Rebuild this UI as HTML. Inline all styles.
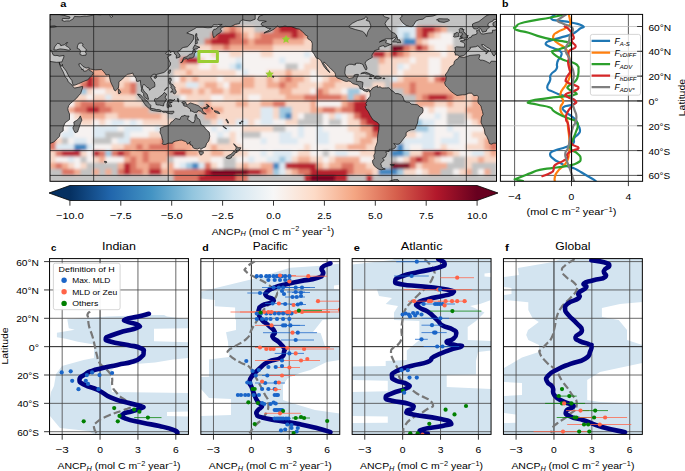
<!DOCTYPE html>
<html><head><meta charset="utf-8"><style>
html,body{margin:0;padding:0;background:#fff;overflow:hidden;}
svg{display:block;font-family:"Liberation Sans", sans-serif;}
</style></head><body>
<svg width="685" height="471" viewBox="0 0 685 471">
<defs><linearGradient id="cbg" gradientUnits="userSpaceOnUse" x1="69.9" x2="477.1" y1="0" y2="0"><stop offset="0.00" stop-color="#053061"/><stop offset="0.10" stop-color="#2166ac"/><stop offset="0.20" stop-color="#4393c3"/><stop offset="0.30" stop-color="#92c5de"/><stop offset="0.40" stop-color="#d1e5f0"/><stop offset="0.50" stop-color="#f7f7f7"/><stop offset="0.60" stop-color="#fddbc7"/><stop offset="0.70" stop-color="#f4a582"/><stop offset="0.80" stop-color="#d6604d"/><stop offset="0.90" stop-color="#b2182b"/><stop offset="1.00" stop-color="#67001f"/></linearGradient><clipPath id="mapclip"><rect x="50.0" y="14.6" width="446.5" height="166.70000000000002"/></clipPath><clipPath id="bclip"><rect x="500.4" y="14.4" width="142.20000000000005" height="166.9"/></clipPath><clipPath id="pclip0"><rect x="49.55" y="258.6" width="138.9" height="175.79999999999995"/></clipPath><clipPath id="pclip1"><rect x="200.85" y="258.6" width="138.9" height="175.79999999999995"/></clipPath><clipPath id="pclip2"><rect x="352.15" y="258.6" width="138.9" height="175.79999999999995"/></clipPath><clipPath id="pclip3"><rect x="503.45" y="258.6" width="138.9" height="175.79999999999995"/></clipPath></defs>
<g clip-path="url(#mapclip)">
<rect x="50.0" y="14.6" width="446.5" height="166.70000000000002" fill="#f6e3dc"/>
<filter id="oblur" x="-5%" y="-5%" width="110%" height="110%"><feGaussianBlur stdDeviation="1.6"/></filter>
<g filter="url(#oblur)">
<rect x="49.40" y="13.90" width="230.41" height="6.80" fill="#c2c2c2"/>
<rect x="279.21" y="13.90" width="31.66" height="6.80" fill="#b7202f"/>
<rect x="310.26" y="13.90" width="13.02" height="6.80" fill="#dc7563"/>
<rect x="322.68" y="13.90" width="6.81" height="6.80" fill="#f1ac92"/>
<rect x="328.89" y="13.90" width="19.23" height="6.80" fill="#f8d8c8"/>
<rect x="347.53" y="13.90" width="149.66" height="6.80" fill="#c2c2c2"/>
<rect x="49.40" y="20.10" width="174.51" height="6.80" fill="#c2c2c2"/>
<rect x="223.31" y="20.10" width="13.02" height="6.80" fill="#f1ac92"/>
<rect x="235.73" y="20.10" width="44.08" height="6.80" fill="#c2c2c2"/>
<rect x="279.21" y="20.10" width="25.44" height="6.80" fill="#b7202f"/>
<rect x="304.05" y="20.10" width="13.02" height="6.80" fill="#dc7563"/>
<rect x="316.47" y="20.10" width="6.81" height="6.80" fill="#f1ac92"/>
<rect x="322.68" y="20.10" width="25.44" height="6.80" fill="#f8d8c8"/>
<rect x="347.53" y="20.10" width="56.50" height="6.80" fill="#c2c2c2"/>
<rect x="403.43" y="20.10" width="13.02" height="6.80" fill="#dde9f2"/>
<rect x="415.85" y="20.10" width="81.34" height="6.80" fill="#c2c2c2"/>
<rect x="49.40" y="26.30" width="174.51" height="6.80" fill="#c2c2c2"/>
<rect x="223.31" y="26.30" width="6.81" height="6.80" fill="#f1ac92"/>
<rect x="229.52" y="26.30" width="6.81" height="6.80" fill="#dc7563"/>
<rect x="235.73" y="26.30" width="6.81" height="6.80" fill="#f1ac92"/>
<rect x="241.94" y="26.30" width="13.02" height="6.80" fill="#f8d8c8"/>
<rect x="254.36" y="26.30" width="19.23" height="6.80" fill="#c2c2c2"/>
<rect x="273.00" y="26.30" width="6.81" height="6.80" fill="#dc7563"/>
<rect x="279.21" y="26.30" width="19.23" height="6.80" fill="#b7202f"/>
<rect x="297.84" y="26.30" width="13.02" height="6.80" fill="#dc7563"/>
<rect x="310.26" y="26.30" width="6.81" height="6.80" fill="#f1ac92"/>
<rect x="316.47" y="26.30" width="31.66" height="6.80" fill="#f8d8c8"/>
<rect x="347.53" y="26.30" width="50.29" height="6.80" fill="#c2c2c2"/>
<rect x="397.22" y="26.30" width="19.23" height="6.80" fill="#dde9f2"/>
<rect x="415.85" y="26.30" width="6.81" height="6.80" fill="#dc7563"/>
<rect x="422.06" y="26.30" width="13.02" height="6.80" fill="#b7202f"/>
<rect x="434.48" y="26.30" width="6.81" height="6.80" fill="#dc7563"/>
<rect x="440.69" y="26.30" width="6.81" height="6.80" fill="#f1ac92"/>
<rect x="446.90" y="26.30" width="50.29" height="6.80" fill="#c2c2c2"/>
<rect x="49.40" y="32.50" width="162.09" height="6.80" fill="#c2c2c2"/>
<rect x="210.89" y="32.50" width="6.81" height="6.80" fill="#dc7563"/>
<rect x="217.10" y="32.50" width="19.23" height="6.80" fill="#b7202f"/>
<rect x="235.73" y="32.50" width="6.81" height="6.80" fill="#dc7563"/>
<rect x="241.94" y="32.50" width="6.81" height="6.80" fill="#f1ac92"/>
<rect x="248.15" y="32.50" width="6.81" height="6.80" fill="#f8d8c8"/>
<rect x="254.36" y="32.50" width="6.81" height="6.80" fill="#f1ac92"/>
<rect x="260.57" y="32.50" width="31.66" height="6.80" fill="#dc7563"/>
<rect x="291.63" y="32.50" width="6.81" height="6.80" fill="#b7202f"/>
<rect x="297.84" y="32.50" width="6.81" height="6.80" fill="#dc7563"/>
<rect x="304.05" y="32.50" width="6.81" height="6.80" fill="#f1ac92"/>
<rect x="310.26" y="32.50" width="31.66" height="6.80" fill="#f8d8c8"/>
<rect x="341.32" y="32.50" width="56.50" height="6.80" fill="#c2c2c2"/>
<rect x="397.22" y="32.50" width="6.81" height="6.80" fill="#dde9f2"/>
<rect x="403.43" y="32.50" width="6.81" height="6.80" fill="#9fc8e0"/>
<rect x="409.64" y="32.50" width="6.81" height="6.80" fill="#dde9f2"/>
<rect x="415.85" y="32.50" width="6.81" height="6.80" fill="#dc7563"/>
<rect x="422.06" y="32.50" width="6.81" height="6.80" fill="#b7202f"/>
<rect x="428.27" y="32.50" width="6.81" height="6.80" fill="#f1ac92"/>
<rect x="434.48" y="32.50" width="6.81" height="6.80" fill="#f8d8c8"/>
<rect x="440.69" y="32.50" width="13.02" height="6.80" fill="#f6f2f1"/>
<rect x="453.12" y="32.50" width="44.08" height="6.80" fill="#c2c2c2"/>
<rect x="49.40" y="38.70" width="155.88" height="6.80" fill="#c2c2c2"/>
<rect x="204.68" y="38.70" width="6.81" height="6.80" fill="#dc7563"/>
<rect x="210.89" y="38.70" width="19.23" height="6.80" fill="#b7202f"/>
<rect x="229.52" y="38.70" width="19.23" height="6.80" fill="#dc7563"/>
<rect x="248.15" y="38.70" width="6.81" height="6.80" fill="#f1ac92"/>
<rect x="254.36" y="38.70" width="19.23" height="6.80" fill="#dc7563"/>
<rect x="273.00" y="38.70" width="31.66" height="6.80" fill="#f1ac92"/>
<rect x="304.05" y="38.70" width="37.87" height="6.80" fill="#f8d8c8"/>
<rect x="341.32" y="38.70" width="62.71" height="6.80" fill="#c2c2c2"/>
<rect x="403.43" y="38.70" width="13.02" height="6.80" fill="#3d85bf"/>
<rect x="415.85" y="38.70" width="6.81" height="6.80" fill="#f1ac92"/>
<rect x="422.06" y="38.70" width="6.81" height="6.80" fill="#f8d8c8"/>
<rect x="428.27" y="38.70" width="25.44" height="6.80" fill="#f6f2f1"/>
<rect x="453.12" y="38.70" width="44.08" height="6.80" fill="#c2c2c2"/>
<rect x="49.40" y="44.90" width="62.71" height="6.80" fill="#c2c2c2"/>
<rect x="111.51" y="44.90" width="6.81" height="6.80" fill="#f1ac92"/>
<rect x="117.72" y="44.90" width="19.23" height="6.80" fill="#f8d8c8"/>
<rect x="136.35" y="44.90" width="62.71" height="6.80" fill="#c2c2c2"/>
<rect x="198.46" y="44.90" width="13.02" height="6.80" fill="#f8d8c8"/>
<rect x="210.89" y="44.90" width="13.02" height="6.80" fill="#f1ac92"/>
<rect x="223.31" y="44.90" width="6.81" height="6.80" fill="#dc7563"/>
<rect x="229.52" y="44.90" width="44.08" height="6.80" fill="#f1ac92"/>
<rect x="273.00" y="44.90" width="62.71" height="6.80" fill="#f8d8c8"/>
<rect x="335.11" y="44.90" width="56.50" height="6.80" fill="#c2c2c2"/>
<rect x="391.00" y="44.90" width="13.02" height="6.80" fill="#7a0622"/>
<rect x="403.43" y="44.90" width="6.81" height="6.80" fill="#dc7563"/>
<rect x="409.64" y="44.90" width="6.81" height="6.80" fill="#f1ac92"/>
<rect x="415.85" y="44.90" width="6.81" height="6.80" fill="#b7202f"/>
<rect x="422.06" y="44.90" width="6.81" height="6.80" fill="#dc7563"/>
<rect x="428.27" y="44.90" width="6.81" height="6.80" fill="#f8d8c8"/>
<rect x="434.48" y="44.90" width="13.02" height="6.80" fill="#f6f2f1"/>
<rect x="446.90" y="44.90" width="6.81" height="6.80" fill="#f8d8c8"/>
<rect x="453.12" y="44.90" width="44.08" height="6.80" fill="#c2c2c2"/>
<rect x="49.40" y="51.10" width="56.50" height="6.80" fill="#c2c2c2"/>
<rect x="105.30" y="51.10" width="13.02" height="6.80" fill="#f1ac92"/>
<rect x="117.72" y="51.10" width="25.44" height="6.80" fill="#f8d8c8"/>
<rect x="142.56" y="51.10" width="50.29" height="6.80" fill="#c2c2c2"/>
<rect x="192.25" y="51.10" width="6.81" height="6.80" fill="#9fc8e0"/>
<rect x="198.46" y="51.10" width="13.02" height="6.80" fill="#f6f2f1"/>
<rect x="210.89" y="51.10" width="6.81" height="6.80" fill="#f8d8c8"/>
<rect x="217.10" y="51.10" width="13.02" height="6.80" fill="#f6f2f1"/>
<rect x="229.52" y="51.10" width="13.02" height="6.80" fill="#f8d8c8"/>
<rect x="241.94" y="51.10" width="19.23" height="6.80" fill="#f6f2f1"/>
<rect x="260.57" y="51.10" width="13.02" height="6.80" fill="#f8d8c8"/>
<rect x="273.00" y="51.10" width="31.66" height="6.80" fill="#f6f2f1"/>
<rect x="304.05" y="51.10" width="6.81" height="6.80" fill="#dde9f2"/>
<rect x="310.26" y="51.10" width="6.81" height="6.80" fill="#f6f2f1"/>
<rect x="316.47" y="51.10" width="13.02" height="6.80" fill="#f8d8c8"/>
<rect x="328.89" y="51.10" width="44.08" height="6.80" fill="#c2c2c2"/>
<rect x="372.37" y="51.10" width="13.02" height="6.80" fill="#b7202f"/>
<rect x="384.79" y="51.10" width="6.81" height="6.80" fill="#f1ac92"/>
<rect x="391.00" y="51.10" width="6.81" height="6.80" fill="#b7202f"/>
<rect x="397.22" y="51.10" width="6.81" height="6.80" fill="#dc7563"/>
<rect x="403.43" y="51.10" width="6.81" height="6.80" fill="#f1ac92"/>
<rect x="409.64" y="51.10" width="31.66" height="6.80" fill="#f8d8c8"/>
<rect x="440.69" y="51.10" width="6.81" height="6.80" fill="#f6f2f1"/>
<rect x="446.90" y="51.10" width="13.02" height="6.80" fill="#f8d8c8"/>
<rect x="459.33" y="51.10" width="37.87" height="6.80" fill="#c2c2c2"/>
<rect x="49.40" y="57.30" width="50.29" height="6.80" fill="#c2c2c2"/>
<rect x="99.09" y="57.30" width="19.23" height="6.80" fill="#f1ac92"/>
<rect x="117.72" y="57.30" width="25.44" height="6.80" fill="#f8d8c8"/>
<rect x="142.56" y="57.30" width="37.87" height="6.80" fill="#c2c2c2"/>
<rect x="179.83" y="57.30" width="6.81" height="6.80" fill="#dc7563"/>
<rect x="186.04" y="57.30" width="13.02" height="6.80" fill="#b7202f"/>
<rect x="198.46" y="57.30" width="6.81" height="6.80" fill="#f8d8c8"/>
<rect x="204.68" y="57.30" width="31.66" height="6.80" fill="#f6f2f1"/>
<rect x="235.73" y="57.30" width="6.81" height="6.80" fill="#dde9f2"/>
<rect x="241.94" y="57.30" width="37.87" height="6.80" fill="#f6f2f1"/>
<rect x="279.21" y="57.30" width="6.81" height="6.80" fill="#dde9f2"/>
<rect x="285.42" y="57.30" width="25.44" height="6.80" fill="#f6f2f1"/>
<rect x="310.26" y="57.30" width="13.02" height="6.80" fill="#f8d8c8"/>
<rect x="322.68" y="57.30" width="56.50" height="6.80" fill="#c2c2c2"/>
<rect x="378.58" y="57.30" width="6.81" height="6.80" fill="#f1ac92"/>
<rect x="384.79" y="57.30" width="25.44" height="6.80" fill="#f8d8c8"/>
<rect x="409.64" y="57.30" width="6.81" height="6.80" fill="#f6f2f1"/>
<rect x="415.85" y="57.30" width="13.02" height="6.80" fill="#f8d8c8"/>
<rect x="428.27" y="57.30" width="13.02" height="6.80" fill="#f6f2f1"/>
<rect x="440.69" y="57.30" width="25.44" height="6.80" fill="#f8d8c8"/>
<rect x="465.54" y="57.30" width="31.66" height="6.80" fill="#c2c2c2"/>
<rect x="49.40" y="63.50" width="44.08" height="6.80" fill="#c2c2c2"/>
<rect x="92.88" y="63.50" width="25.44" height="6.80" fill="#f1ac92"/>
<rect x="117.72" y="63.50" width="25.44" height="6.80" fill="#f8d8c8"/>
<rect x="142.56" y="63.50" width="37.87" height="6.80" fill="#c2c2c2"/>
<rect x="179.83" y="63.50" width="6.81" height="6.80" fill="#f1ac92"/>
<rect x="186.04" y="63.50" width="13.02" height="6.80" fill="#f8d8c8"/>
<rect x="198.46" y="63.50" width="13.02" height="6.80" fill="#f6f2f1"/>
<rect x="210.89" y="63.50" width="6.81" height="6.80" fill="#f8d8c8"/>
<rect x="217.10" y="63.50" width="13.02" height="6.80" fill="#f6f2f1"/>
<rect x="229.52" y="63.50" width="6.81" height="6.80" fill="#dde9f2"/>
<rect x="235.73" y="63.50" width="6.81" height="6.80" fill="#9fc8e0"/>
<rect x="241.94" y="63.50" width="44.08" height="6.80" fill="#f6f2f1"/>
<rect x="285.42" y="63.50" width="13.02" height="6.80" fill="#c2c2c2"/>
<rect x="297.84" y="63.50" width="6.81" height="6.80" fill="#f6f2f1"/>
<rect x="304.05" y="63.50" width="25.44" height="6.80" fill="#f8d8c8"/>
<rect x="328.89" y="63.50" width="50.29" height="6.80" fill="#c2c2c2"/>
<rect x="378.58" y="63.50" width="19.23" height="6.80" fill="#f8d8c8"/>
<rect x="397.22" y="63.50" width="6.81" height="6.80" fill="#dde9f2"/>
<rect x="403.43" y="63.50" width="6.81" height="6.80" fill="#f6f2f1"/>
<rect x="409.64" y="63.50" width="19.23" height="6.80" fill="#f8d8c8"/>
<rect x="428.27" y="63.50" width="13.02" height="6.80" fill="#f6f2f1"/>
<rect x="440.69" y="63.50" width="25.44" height="6.80" fill="#f8d8c8"/>
<rect x="465.54" y="63.50" width="31.66" height="6.80" fill="#c2c2c2"/>
<rect x="49.40" y="69.70" width="37.87" height="6.80" fill="#c2c2c2"/>
<rect x="86.67" y="69.70" width="25.44" height="6.80" fill="#f1ac92"/>
<rect x="111.51" y="69.70" width="31.66" height="6.80" fill="#f8d8c8"/>
<rect x="142.56" y="69.70" width="31.66" height="6.80" fill="#c2c2c2"/>
<rect x="173.62" y="69.70" width="13.02" height="6.80" fill="#f8d8c8"/>
<rect x="186.04" y="69.70" width="6.81" height="6.80" fill="#f1ac92"/>
<rect x="192.25" y="69.70" width="44.08" height="6.80" fill="#f8d8c8"/>
<rect x="235.73" y="69.70" width="6.81" height="6.80" fill="#f6f2f1"/>
<rect x="241.94" y="69.70" width="6.81" height="6.80" fill="#dde9f2"/>
<rect x="248.15" y="69.70" width="19.23" height="6.80" fill="#f6f2f1"/>
<rect x="266.79" y="69.70" width="19.23" height="6.80" fill="#f8d8c8"/>
<rect x="285.42" y="69.70" width="6.81" height="6.80" fill="#f1ac92"/>
<rect x="291.63" y="69.70" width="19.23" height="6.80" fill="#f8d8c8"/>
<rect x="310.26" y="69.70" width="6.81" height="6.80" fill="#f6f2f1"/>
<rect x="316.47" y="69.70" width="25.44" height="6.80" fill="#f8d8c8"/>
<rect x="341.32" y="69.70" width="37.87" height="6.80" fill="#c2c2c2"/>
<rect x="378.58" y="69.70" width="19.23" height="6.80" fill="#f8d8c8"/>
<rect x="397.22" y="69.70" width="6.81" height="6.80" fill="#f6f2f1"/>
<rect x="403.43" y="69.70" width="25.44" height="6.80" fill="#f8d8c8"/>
<rect x="428.27" y="69.70" width="13.02" height="6.80" fill="#f6f2f1"/>
<rect x="440.69" y="69.70" width="25.44" height="6.80" fill="#f8d8c8"/>
<rect x="465.54" y="69.70" width="31.66" height="6.80" fill="#c2c2c2"/>
<rect x="49.40" y="75.90" width="31.66" height="6.80" fill="#c2c2c2"/>
<rect x="80.45" y="75.90" width="6.81" height="6.80" fill="#f1ac92"/>
<rect x="86.67" y="75.90" width="6.81" height="6.80" fill="#b7202f"/>
<rect x="92.88" y="75.90" width="6.81" height="6.80" fill="#dc7563"/>
<rect x="99.09" y="75.90" width="6.81" height="6.80" fill="#f1ac92"/>
<rect x="105.30" y="75.90" width="6.81" height="6.80" fill="#f8d8c8"/>
<rect x="111.51" y="75.90" width="6.81" height="6.80" fill="#f1ac92"/>
<rect x="117.72" y="75.90" width="13.02" height="6.80" fill="#f8d8c8"/>
<rect x="130.14" y="75.90" width="6.81" height="6.80" fill="#f6f2f1"/>
<rect x="136.35" y="75.90" width="37.87" height="6.80" fill="#c2c2c2"/>
<rect x="173.62" y="75.90" width="6.81" height="6.80" fill="#f6f2f1"/>
<rect x="179.83" y="75.90" width="6.81" height="6.80" fill="#f1ac92"/>
<rect x="186.04" y="75.90" width="6.81" height="6.80" fill="#f8d8c8"/>
<rect x="192.25" y="75.90" width="6.81" height="6.80" fill="#f1ac92"/>
<rect x="198.46" y="75.90" width="19.23" height="6.80" fill="#f8d8c8"/>
<rect x="217.10" y="75.90" width="6.81" height="6.80" fill="#f6f2f1"/>
<rect x="223.31" y="75.90" width="19.23" height="6.80" fill="#f8d8c8"/>
<rect x="241.94" y="75.90" width="13.02" height="6.80" fill="#f1ac92"/>
<rect x="254.36" y="75.90" width="13.02" height="6.80" fill="#f8d8c8"/>
<rect x="266.79" y="75.90" width="6.81" height="6.80" fill="#f1ac92"/>
<rect x="273.00" y="75.90" width="6.81" height="6.80" fill="#f8d8c8"/>
<rect x="279.21" y="75.90" width="6.81" height="6.80" fill="#f1ac92"/>
<rect x="285.42" y="75.90" width="6.81" height="6.80" fill="#dc7563"/>
<rect x="291.63" y="75.90" width="13.02" height="6.80" fill="#f1ac92"/>
<rect x="304.05" y="75.90" width="6.81" height="6.80" fill="#f8d8c8"/>
<rect x="310.26" y="75.90" width="13.02" height="6.80" fill="#f6f2f1"/>
<rect x="322.68" y="75.90" width="6.81" height="6.80" fill="#f8d8c8"/>
<rect x="328.89" y="75.90" width="13.02" height="6.80" fill="#f1ac92"/>
<rect x="341.32" y="75.90" width="13.02" height="6.80" fill="#f8d8c8"/>
<rect x="353.74" y="75.90" width="37.87" height="6.80" fill="#c2c2c2"/>
<rect x="391.00" y="75.90" width="6.81" height="6.80" fill="#dde9f2"/>
<rect x="397.22" y="75.90" width="6.81" height="6.80" fill="#f8d8c8"/>
<rect x="403.43" y="75.90" width="25.44" height="6.80" fill="#f1ac92"/>
<rect x="428.27" y="75.90" width="6.81" height="6.80" fill="#f8d8c8"/>
<rect x="434.48" y="75.90" width="6.81" height="6.80" fill="#dc7563"/>
<rect x="440.69" y="75.90" width="6.81" height="6.80" fill="#b7202f"/>
<rect x="446.90" y="75.90" width="19.23" height="6.80" fill="#f8d8c8"/>
<rect x="465.54" y="75.90" width="6.81" height="6.80" fill="#f1ac92"/>
<rect x="471.75" y="75.90" width="6.81" height="6.80" fill="#f8d8c8"/>
<rect x="477.96" y="75.90" width="19.23" height="6.80" fill="#c2c2c2"/>
<rect x="49.40" y="82.10" width="25.44" height="6.80" fill="#c2c2c2"/>
<rect x="74.24" y="82.10" width="6.81" height="6.80" fill="#f8d8c8"/>
<rect x="80.45" y="82.10" width="6.81" height="6.80" fill="#dc7563"/>
<rect x="86.67" y="82.10" width="6.81" height="6.80" fill="#b7202f"/>
<rect x="92.88" y="82.10" width="6.81" height="6.80" fill="#dc7563"/>
<rect x="99.09" y="82.10" width="19.23" height="6.80" fill="#f1ac92"/>
<rect x="117.72" y="82.10" width="6.81" height="6.80" fill="#f8d8c8"/>
<rect x="123.93" y="82.10" width="6.81" height="6.80" fill="#f1ac92"/>
<rect x="130.14" y="82.10" width="6.81" height="6.80" fill="#dc7563"/>
<rect x="136.35" y="82.10" width="37.87" height="6.80" fill="#c2c2c2"/>
<rect x="173.62" y="82.10" width="13.02" height="6.80" fill="#f8d8c8"/>
<rect x="186.04" y="82.10" width="13.02" height="6.80" fill="#dde9f2"/>
<rect x="198.46" y="82.10" width="6.81" height="6.80" fill="#f8d8c8"/>
<rect x="204.68" y="82.10" width="13.02" height="6.80" fill="#f1ac92"/>
<rect x="217.10" y="82.10" width="6.81" height="6.80" fill="#f8d8c8"/>
<rect x="223.31" y="82.10" width="6.81" height="6.80" fill="#f6f2f1"/>
<rect x="229.52" y="82.10" width="25.44" height="6.80" fill="#f1ac92"/>
<rect x="254.36" y="82.10" width="13.02" height="6.80" fill="#f8d8c8"/>
<rect x="266.79" y="82.10" width="13.02" height="6.80" fill="#f1ac92"/>
<rect x="279.21" y="82.10" width="6.81" height="6.80" fill="#dc7563"/>
<rect x="285.42" y="82.10" width="13.02" height="6.80" fill="#f1ac92"/>
<rect x="297.84" y="82.10" width="25.44" height="6.80" fill="#f8d8c8"/>
<rect x="322.68" y="82.10" width="13.02" height="6.80" fill="#f1ac92"/>
<rect x="335.11" y="82.10" width="25.44" height="6.80" fill="#f8d8c8"/>
<rect x="359.95" y="82.10" width="13.02" height="6.80" fill="#c2c2c2"/>
<rect x="372.37" y="82.10" width="13.02" height="6.80" fill="#f8d8c8"/>
<rect x="384.79" y="82.10" width="6.81" height="6.80" fill="#c2c2c2"/>
<rect x="391.00" y="82.10" width="19.23" height="6.80" fill="#f1ac92"/>
<rect x="409.64" y="82.10" width="6.81" height="6.80" fill="#dc7563"/>
<rect x="415.85" y="82.10" width="31.66" height="6.80" fill="#f1ac92"/>
<rect x="446.90" y="82.10" width="13.02" height="6.80" fill="#f8d8c8"/>
<rect x="459.33" y="82.10" width="6.81" height="6.80" fill="#f1ac92"/>
<rect x="465.54" y="82.10" width="19.23" height="6.80" fill="#f8d8c8"/>
<rect x="484.17" y="82.10" width="6.81" height="6.80" fill="#f1ac92"/>
<rect x="490.38" y="82.10" width="6.81" height="6.80" fill="#f8d8c8"/>
<rect x="49.40" y="88.30" width="19.23" height="6.80" fill="#c2c2c2"/>
<rect x="68.03" y="88.30" width="13.02" height="6.80" fill="#f8d8c8"/>
<rect x="80.45" y="88.30" width="6.81" height="6.80" fill="#9fc8e0"/>
<rect x="86.67" y="88.30" width="6.81" height="6.80" fill="#f8d8c8"/>
<rect x="92.88" y="88.30" width="13.02" height="6.80" fill="#f6f2f1"/>
<rect x="105.30" y="88.30" width="13.02" height="6.80" fill="#f8d8c8"/>
<rect x="117.72" y="88.30" width="13.02" height="6.80" fill="#f1ac92"/>
<rect x="130.14" y="88.30" width="6.81" height="6.80" fill="#dc7563"/>
<rect x="136.35" y="88.30" width="37.87" height="6.80" fill="#c2c2c2"/>
<rect x="173.62" y="88.30" width="6.81" height="6.80" fill="#f8d8c8"/>
<rect x="179.83" y="88.30" width="13.02" height="6.80" fill="#f1ac92"/>
<rect x="192.25" y="88.30" width="6.81" height="6.80" fill="#f8d8c8"/>
<rect x="198.46" y="88.30" width="6.81" height="6.80" fill="#f1ac92"/>
<rect x="204.68" y="88.30" width="6.81" height="6.80" fill="#f8d8c8"/>
<rect x="210.89" y="88.30" width="13.02" height="6.80" fill="#f1ac92"/>
<rect x="223.31" y="88.30" width="6.81" height="6.80" fill="#f8d8c8"/>
<rect x="229.52" y="88.30" width="13.02" height="6.80" fill="#f1ac92"/>
<rect x="241.94" y="88.30" width="37.87" height="6.80" fill="#f8d8c8"/>
<rect x="279.21" y="88.30" width="13.02" height="6.80" fill="#f1ac92"/>
<rect x="291.63" y="88.30" width="19.23" height="6.80" fill="#f8d8c8"/>
<rect x="310.26" y="88.30" width="6.81" height="6.80" fill="#f6f2f1"/>
<rect x="316.47" y="88.30" width="6.81" height="6.80" fill="#dc7563"/>
<rect x="322.68" y="88.30" width="6.81" height="6.80" fill="#f1ac92"/>
<rect x="328.89" y="88.30" width="13.02" height="6.80" fill="#f8d8c8"/>
<rect x="341.32" y="88.30" width="6.81" height="6.80" fill="#f6f2f1"/>
<rect x="347.53" y="88.30" width="13.02" height="6.80" fill="#9fc8e0"/>
<rect x="359.95" y="88.30" width="6.81" height="6.80" fill="#f6f2f1"/>
<rect x="366.16" y="88.30" width="19.23" height="6.80" fill="#f8d8c8"/>
<rect x="384.79" y="88.30" width="19.23" height="6.80" fill="#c2c2c2"/>
<rect x="403.43" y="88.30" width="6.81" height="6.80" fill="#f1ac92"/>
<rect x="409.64" y="88.30" width="6.81" height="6.80" fill="#dc7563"/>
<rect x="415.85" y="88.30" width="44.08" height="6.80" fill="#f1ac92"/>
<rect x="459.33" y="88.30" width="19.23" height="6.80" fill="#f8d8c8"/>
<rect x="477.96" y="88.30" width="6.81" height="6.80" fill="#f1ac92"/>
<rect x="484.17" y="88.30" width="13.02" height="6.80" fill="#f8d8c8"/>
<rect x="49.40" y="94.50" width="19.23" height="6.80" fill="#f6f2f1"/>
<rect x="68.03" y="94.50" width="19.23" height="6.80" fill="#f8d8c8"/>
<rect x="86.67" y="94.50" width="6.81" height="6.80" fill="#f6f2f1"/>
<rect x="92.88" y="94.50" width="13.02" height="6.80" fill="#f8d8c8"/>
<rect x="105.30" y="94.50" width="6.81" height="6.80" fill="#dde9f2"/>
<rect x="111.51" y="94.50" width="25.44" height="6.80" fill="#f8d8c8"/>
<rect x="136.35" y="94.50" width="44.08" height="6.80" fill="#c2c2c2"/>
<rect x="179.83" y="94.50" width="6.81" height="6.80" fill="#f6f2f1"/>
<rect x="186.04" y="94.50" width="25.44" height="6.80" fill="#f8d8c8"/>
<rect x="210.89" y="94.50" width="13.02" height="6.80" fill="#f6f2f1"/>
<rect x="223.31" y="94.50" width="25.44" height="6.80" fill="#f8d8c8"/>
<rect x="248.15" y="94.50" width="13.02" height="6.80" fill="#f6f2f1"/>
<rect x="260.57" y="94.50" width="25.44" height="6.80" fill="#f8d8c8"/>
<rect x="285.42" y="94.50" width="19.23" height="6.80" fill="#f1ac92"/>
<rect x="304.05" y="94.50" width="37.87" height="6.80" fill="#dc7563"/>
<rect x="341.32" y="94.50" width="6.81" height="6.80" fill="#f1ac92"/>
<rect x="347.53" y="94.50" width="6.81" height="6.80" fill="#9fc8e0"/>
<rect x="353.74" y="94.50" width="6.81" height="6.80" fill="#f1ac92"/>
<rect x="359.95" y="94.50" width="6.81" height="6.80" fill="#dc7563"/>
<rect x="366.16" y="94.50" width="6.81" height="6.80" fill="#f6f2f1"/>
<rect x="372.37" y="94.50" width="13.02" height="6.80" fill="#f8d8c8"/>
<rect x="384.79" y="94.50" width="31.66" height="6.80" fill="#c2c2c2"/>
<rect x="415.85" y="94.50" width="6.81" height="6.80" fill="#f1ac92"/>
<rect x="422.06" y="94.50" width="6.81" height="6.80" fill="#dc7563"/>
<rect x="428.27" y="94.50" width="19.23" height="6.80" fill="#b7202f"/>
<rect x="446.90" y="94.50" width="6.81" height="6.80" fill="#dc7563"/>
<rect x="453.12" y="94.50" width="13.02" height="6.80" fill="#f1ac92"/>
<rect x="465.54" y="94.50" width="6.81" height="6.80" fill="#f8d8c8"/>
<rect x="471.75" y="94.50" width="6.81" height="6.80" fill="#f1ac92"/>
<rect x="477.96" y="94.50" width="19.23" height="6.80" fill="#f8d8c8"/>
<rect x="49.40" y="100.70" width="25.44" height="6.80" fill="#f6f2f1"/>
<rect x="74.24" y="100.70" width="6.81" height="6.80" fill="#f1ac92"/>
<rect x="80.45" y="100.70" width="25.44" height="6.80" fill="#dc7563"/>
<rect x="105.30" y="100.70" width="19.23" height="6.80" fill="#f1ac92"/>
<rect x="123.93" y="100.70" width="19.23" height="6.80" fill="#f8d8c8"/>
<rect x="142.56" y="100.70" width="44.08" height="6.80" fill="#c2c2c2"/>
<rect x="186.04" y="100.70" width="13.02" height="6.80" fill="#f8d8c8"/>
<rect x="198.46" y="100.70" width="6.81" height="6.80" fill="#c2c2c2"/>
<rect x="204.68" y="100.70" width="6.81" height="6.80" fill="#f1ac92"/>
<rect x="210.89" y="100.70" width="25.44" height="6.80" fill="#f8d8c8"/>
<rect x="235.73" y="100.70" width="13.02" height="6.80" fill="#f1ac92"/>
<rect x="248.15" y="100.70" width="13.02" height="6.80" fill="#f8d8c8"/>
<rect x="260.57" y="100.70" width="13.02" height="6.80" fill="#f1ac92"/>
<rect x="273.00" y="100.70" width="13.02" height="6.80" fill="#dc7563"/>
<rect x="285.42" y="100.70" width="25.44" height="6.80" fill="#f8d8c8"/>
<rect x="310.26" y="100.70" width="6.81" height="6.80" fill="#f1ac92"/>
<rect x="316.47" y="100.70" width="25.44" height="6.80" fill="#f6f2f1"/>
<rect x="341.32" y="100.70" width="6.81" height="6.80" fill="#f1ac92"/>
<rect x="347.53" y="100.70" width="6.81" height="6.80" fill="#dc7563"/>
<rect x="353.74" y="100.70" width="25.44" height="6.80" fill="#b7202f"/>
<rect x="378.58" y="100.70" width="6.81" height="6.80" fill="#f8d8c8"/>
<rect x="384.79" y="100.70" width="31.66" height="6.80" fill="#c2c2c2"/>
<rect x="415.85" y="100.70" width="19.23" height="6.80" fill="#f1ac92"/>
<rect x="434.48" y="100.70" width="13.02" height="6.80" fill="#f8d8c8"/>
<rect x="446.90" y="100.70" width="6.81" height="6.80" fill="#f1ac92"/>
<rect x="453.12" y="100.70" width="19.23" height="6.80" fill="#f8d8c8"/>
<rect x="471.75" y="100.70" width="25.44" height="6.80" fill="#f1ac92"/>
<rect x="49.40" y="106.90" width="19.23" height="6.80" fill="#f6f2f1"/>
<rect x="68.03" y="106.90" width="6.81" height="6.80" fill="#f1ac92"/>
<rect x="74.24" y="106.90" width="13.02" height="6.80" fill="#dc7563"/>
<rect x="86.67" y="106.90" width="13.02" height="6.80" fill="#b7202f"/>
<rect x="99.09" y="106.90" width="13.02" height="6.80" fill="#dc7563"/>
<rect x="111.51" y="106.90" width="37.87" height="6.80" fill="#f1ac92"/>
<rect x="148.78" y="106.90" width="50.29" height="6.80" fill="#c2c2c2"/>
<rect x="198.46" y="106.90" width="6.81" height="6.80" fill="#f1ac92"/>
<rect x="204.68" y="106.90" width="6.81" height="6.80" fill="#dc7563"/>
<rect x="210.89" y="106.90" width="13.02" height="6.80" fill="#f1ac92"/>
<rect x="223.31" y="106.90" width="37.87" height="6.80" fill="#f8d8c8"/>
<rect x="260.57" y="106.90" width="13.02" height="6.80" fill="#dde9f2"/>
<rect x="273.00" y="106.90" width="6.81" height="6.80" fill="#f8d8c8"/>
<rect x="279.21" y="106.90" width="13.02" height="6.80" fill="#9fc8e0"/>
<rect x="291.63" y="106.90" width="19.23" height="6.80" fill="#f8d8c8"/>
<rect x="310.26" y="106.90" width="13.02" height="6.80" fill="#f1ac92"/>
<rect x="322.68" y="106.90" width="13.02" height="6.80" fill="#dc7563"/>
<rect x="335.11" y="106.90" width="6.81" height="6.80" fill="#f1ac92"/>
<rect x="341.32" y="106.90" width="13.02" height="6.80" fill="#dc7563"/>
<rect x="353.74" y="106.90" width="31.66" height="6.80" fill="#b7202f"/>
<rect x="384.79" y="106.90" width="31.66" height="6.80" fill="#c2c2c2"/>
<rect x="415.85" y="106.90" width="6.81" height="6.80" fill="#f1ac92"/>
<rect x="422.06" y="106.90" width="6.81" height="6.80" fill="#f6f2f1"/>
<rect x="428.27" y="106.90" width="6.81" height="6.80" fill="#f8d8c8"/>
<rect x="434.48" y="106.90" width="13.02" height="6.80" fill="#f6f2f1"/>
<rect x="446.90" y="106.90" width="19.23" height="6.80" fill="#f8d8c8"/>
<rect x="465.54" y="106.90" width="31.66" height="6.80" fill="#f1ac92"/>
<rect x="49.40" y="113.10" width="25.44" height="6.80" fill="#f6f2f1"/>
<rect x="74.24" y="113.10" width="6.81" height="6.80" fill="#f8d8c8"/>
<rect x="80.45" y="113.10" width="25.44" height="6.80" fill="#f1ac92"/>
<rect x="105.30" y="113.10" width="13.02" height="6.80" fill="#f8d8c8"/>
<rect x="117.72" y="113.10" width="44.08" height="6.80" fill="#f1ac92"/>
<rect x="161.20" y="113.10" width="6.81" height="6.80" fill="#f8d8c8"/>
<rect x="167.41" y="113.10" width="37.87" height="6.80" fill="#c2c2c2"/>
<rect x="204.68" y="113.10" width="13.02" height="6.80" fill="#f1ac92"/>
<rect x="217.10" y="113.10" width="44.08" height="6.80" fill="#f8d8c8"/>
<rect x="260.57" y="113.10" width="13.02" height="6.80" fill="#dde9f2"/>
<rect x="273.00" y="113.10" width="6.81" height="6.80" fill="#f8d8c8"/>
<rect x="279.21" y="113.10" width="6.81" height="6.80" fill="#9fc8e0"/>
<rect x="285.42" y="113.10" width="6.81" height="6.80" fill="#3d85bf"/>
<rect x="291.63" y="113.10" width="6.81" height="6.80" fill="#f8d8c8"/>
<rect x="297.84" y="113.10" width="6.81" height="6.80" fill="#f6f2f1"/>
<rect x="304.05" y="113.10" width="19.23" height="6.80" fill="#c2c2c2"/>
<rect x="322.68" y="113.10" width="6.81" height="6.80" fill="#f6f2f1"/>
<rect x="328.89" y="113.10" width="6.81" height="6.80" fill="#f8d8c8"/>
<rect x="335.11" y="113.10" width="6.81" height="6.80" fill="#dde9f2"/>
<rect x="341.32" y="113.10" width="6.81" height="6.80" fill="#f6f2f1"/>
<rect x="347.53" y="113.10" width="6.81" height="6.80" fill="#f8d8c8"/>
<rect x="353.74" y="113.10" width="6.81" height="6.80" fill="#dc7563"/>
<rect x="359.95" y="113.10" width="31.66" height="6.80" fill="#b7202f"/>
<rect x="391.00" y="113.10" width="25.44" height="6.80" fill="#c2c2c2"/>
<rect x="415.85" y="113.10" width="19.23" height="6.80" fill="#f6f2f1"/>
<rect x="434.48" y="113.10" width="6.81" height="6.80" fill="#dde9f2"/>
<rect x="440.69" y="113.10" width="6.81" height="6.80" fill="#f6f2f1"/>
<rect x="446.90" y="113.10" width="19.23" height="6.80" fill="#c2c2c2"/>
<rect x="465.54" y="113.10" width="6.81" height="6.80" fill="#f8d8c8"/>
<rect x="471.75" y="113.10" width="25.44" height="6.80" fill="#f1ac92"/>
<rect x="49.40" y="119.30" width="31.66" height="6.80" fill="#f6f2f1"/>
<rect x="80.45" y="119.30" width="13.02" height="6.80" fill="#f8d8c8"/>
<rect x="92.88" y="119.30" width="6.81" height="6.80" fill="#f6f2f1"/>
<rect x="99.09" y="119.30" width="6.81" height="6.80" fill="#f8d8c8"/>
<rect x="105.30" y="119.30" width="6.81" height="6.80" fill="#f6f2f1"/>
<rect x="111.51" y="119.30" width="13.02" height="6.80" fill="#dde9f2"/>
<rect x="123.93" y="119.30" width="6.81" height="6.80" fill="#f6f2f1"/>
<rect x="130.14" y="119.30" width="6.81" height="6.80" fill="#dde9f2"/>
<rect x="136.35" y="119.30" width="6.81" height="6.80" fill="#f6f2f1"/>
<rect x="142.56" y="119.30" width="31.66" height="6.80" fill="#f8d8c8"/>
<rect x="173.62" y="119.30" width="37.87" height="6.80" fill="#c2c2c2"/>
<rect x="210.89" y="119.30" width="6.81" height="6.80" fill="#f8d8c8"/>
<rect x="217.10" y="119.30" width="6.81" height="6.80" fill="#dde9f2"/>
<rect x="223.31" y="119.30" width="13.02" height="6.80" fill="#f8d8c8"/>
<rect x="235.73" y="119.30" width="13.02" height="6.80" fill="#dde9f2"/>
<rect x="248.15" y="119.30" width="6.81" height="6.80" fill="#f8d8c8"/>
<rect x="254.36" y="119.30" width="6.81" height="6.80" fill="#f6f2f1"/>
<rect x="260.57" y="119.30" width="13.02" height="6.80" fill="#dde9f2"/>
<rect x="273.00" y="119.30" width="13.02" height="6.80" fill="#f6f2f1"/>
<rect x="285.42" y="119.30" width="13.02" height="6.80" fill="#f8d8c8"/>
<rect x="297.84" y="119.30" width="25.44" height="6.80" fill="#c2c2c2"/>
<rect x="322.68" y="119.30" width="6.81" height="6.80" fill="#f6f2f1"/>
<rect x="328.89" y="119.30" width="13.02" height="6.80" fill="#c2c2c2"/>
<rect x="341.32" y="119.30" width="6.81" height="6.80" fill="#f6f2f1"/>
<rect x="347.53" y="119.30" width="13.02" height="6.80" fill="#f8d8c8"/>
<rect x="359.95" y="119.30" width="6.81" height="6.80" fill="#dc7563"/>
<rect x="366.16" y="119.30" width="25.44" height="6.80" fill="#b7202f"/>
<rect x="391.00" y="119.30" width="25.44" height="6.80" fill="#c2c2c2"/>
<rect x="415.85" y="119.30" width="6.81" height="6.80" fill="#9fc8e0"/>
<rect x="422.06" y="119.30" width="13.02" height="6.80" fill="#dde9f2"/>
<rect x="434.48" y="119.30" width="13.02" height="6.80" fill="#f6f2f1"/>
<rect x="446.90" y="119.30" width="19.23" height="6.80" fill="#c2c2c2"/>
<rect x="465.54" y="119.30" width="6.81" height="6.80" fill="#f6f2f1"/>
<rect x="471.75" y="119.30" width="6.81" height="6.80" fill="#f8d8c8"/>
<rect x="477.96" y="119.30" width="19.23" height="6.80" fill="#f1ac92"/>
<rect x="49.40" y="125.50" width="19.23" height="6.80" fill="#f6f2f1"/>
<rect x="68.03" y="125.50" width="6.81" height="6.80" fill="#dde9f2"/>
<rect x="74.24" y="125.50" width="19.23" height="6.80" fill="#f6f2f1"/>
<rect x="92.88" y="125.50" width="25.44" height="6.80" fill="#dde9f2"/>
<rect x="117.72" y="125.50" width="6.81" height="6.80" fill="#f6f2f1"/>
<rect x="123.93" y="125.50" width="19.23" height="6.80" fill="#dde9f2"/>
<rect x="142.56" y="125.50" width="13.02" height="6.80" fill="#f6f2f1"/>
<rect x="154.99" y="125.50" width="6.81" height="6.80" fill="#dde9f2"/>
<rect x="161.20" y="125.50" width="19.23" height="6.80" fill="#f8d8c8"/>
<rect x="179.83" y="125.50" width="25.44" height="6.80" fill="#c2c2c2"/>
<rect x="204.68" y="125.50" width="6.81" height="6.80" fill="#f6f2f1"/>
<rect x="210.89" y="125.50" width="6.81" height="6.80" fill="#dde9f2"/>
<rect x="217.10" y="125.50" width="6.81" height="6.80" fill="#f6f2f1"/>
<rect x="223.31" y="125.50" width="6.81" height="6.80" fill="#dde9f2"/>
<rect x="229.52" y="125.50" width="13.02" height="6.80" fill="#f6f2f1"/>
<rect x="241.94" y="125.50" width="31.66" height="6.80" fill="#f8d8c8"/>
<rect x="273.00" y="125.50" width="13.02" height="6.80" fill="#c2c2c2"/>
<rect x="285.42" y="125.50" width="13.02" height="6.80" fill="#f6f2f1"/>
<rect x="297.84" y="125.50" width="6.81" height="6.80" fill="#dde9f2"/>
<rect x="304.05" y="125.50" width="13.02" height="6.80" fill="#f6f2f1"/>
<rect x="316.47" y="125.50" width="6.81" height="6.80" fill="#dde9f2"/>
<rect x="322.68" y="125.50" width="25.44" height="6.80" fill="#f6f2f1"/>
<rect x="347.53" y="125.50" width="13.02" height="6.80" fill="#f8d8c8"/>
<rect x="359.95" y="125.50" width="13.02" height="6.80" fill="#f1ac92"/>
<rect x="372.37" y="125.50" width="19.23" height="6.80" fill="#b7202f"/>
<rect x="391.00" y="125.50" width="25.44" height="6.80" fill="#c2c2c2"/>
<rect x="415.85" y="125.50" width="13.02" height="6.80" fill="#9fc8e0"/>
<rect x="428.27" y="125.50" width="6.81" height="6.80" fill="#dde9f2"/>
<rect x="434.48" y="125.50" width="13.02" height="6.80" fill="#f6f2f1"/>
<rect x="446.90" y="125.50" width="6.81" height="6.80" fill="#dde9f2"/>
<rect x="453.12" y="125.50" width="31.66" height="6.80" fill="#f6f2f1"/>
<rect x="484.17" y="125.50" width="13.02" height="6.80" fill="#f1ac92"/>
<rect x="49.40" y="131.70" width="6.81" height="6.80" fill="#dc7563"/>
<rect x="55.61" y="131.70" width="6.81" height="6.80" fill="#f6f2f1"/>
<rect x="61.82" y="131.70" width="13.02" height="6.80" fill="#dde9f2"/>
<rect x="74.24" y="131.70" width="19.23" height="6.80" fill="#f6f2f1"/>
<rect x="92.88" y="131.70" width="13.02" height="6.80" fill="#dde9f2"/>
<rect x="105.30" y="131.70" width="19.23" height="6.80" fill="#c2c2c2"/>
<rect x="123.93" y="131.70" width="6.81" height="6.80" fill="#dde9f2"/>
<rect x="130.14" y="131.70" width="19.23" height="6.80" fill="#f6f2f1"/>
<rect x="148.78" y="131.70" width="13.02" height="6.80" fill="#f8d8c8"/>
<rect x="161.20" y="131.70" width="6.81" height="6.80" fill="#dde9f2"/>
<rect x="167.41" y="131.70" width="6.81" height="6.80" fill="#dc7563"/>
<rect x="173.62" y="131.70" width="6.81" height="6.80" fill="#f8d8c8"/>
<rect x="179.83" y="131.70" width="13.02" height="6.80" fill="#f1ac92"/>
<rect x="192.25" y="131.70" width="6.81" height="6.80" fill="#c2c2c2"/>
<rect x="198.46" y="131.70" width="19.23" height="6.80" fill="#f6f2f1"/>
<rect x="217.10" y="131.70" width="6.81" height="6.80" fill="#dde9f2"/>
<rect x="223.31" y="131.70" width="6.81" height="6.80" fill="#f6f2f1"/>
<rect x="229.52" y="131.70" width="6.81" height="6.80" fill="#f8d8c8"/>
<rect x="235.73" y="131.70" width="6.81" height="6.80" fill="#f6f2f1"/>
<rect x="241.94" y="131.70" width="19.23" height="6.80" fill="#c2c2c2"/>
<rect x="260.57" y="131.70" width="19.23" height="6.80" fill="#f6f2f1"/>
<rect x="279.21" y="131.70" width="13.02" height="6.80" fill="#dde9f2"/>
<rect x="291.63" y="131.70" width="6.81" height="6.80" fill="#f6f2f1"/>
<rect x="297.84" y="131.70" width="6.81" height="6.80" fill="#dde9f2"/>
<rect x="304.05" y="131.70" width="13.02" height="6.80" fill="#f6f2f1"/>
<rect x="316.47" y="131.70" width="13.02" height="6.80" fill="#dde9f2"/>
<rect x="328.89" y="131.70" width="25.44" height="6.80" fill="#f6f2f1"/>
<rect x="353.74" y="131.70" width="13.02" height="6.80" fill="#f8d8c8"/>
<rect x="366.16" y="131.70" width="6.81" height="6.80" fill="#f1ac92"/>
<rect x="372.37" y="131.70" width="6.81" height="6.80" fill="#dc7563"/>
<rect x="378.58" y="131.70" width="6.81" height="6.80" fill="#b7202f"/>
<rect x="384.79" y="131.70" width="19.23" height="6.80" fill="#c2c2c2"/>
<rect x="403.43" y="131.70" width="13.02" height="6.80" fill="#f8d8c8"/>
<rect x="415.85" y="131.70" width="6.81" height="6.80" fill="#f6f2f1"/>
<rect x="422.06" y="131.70" width="13.02" height="6.80" fill="#dde9f2"/>
<rect x="434.48" y="131.70" width="19.23" height="6.80" fill="#f6f2f1"/>
<rect x="453.12" y="131.70" width="6.81" height="6.80" fill="#dde9f2"/>
<rect x="459.33" y="131.70" width="13.02" height="6.80" fill="#f6f2f1"/>
<rect x="471.75" y="131.70" width="19.23" height="6.80" fill="#f8d8c8"/>
<rect x="490.38" y="131.70" width="6.81" height="6.80" fill="#dc7563"/>
<rect x="49.40" y="137.90" width="6.81" height="6.80" fill="#dc7563"/>
<rect x="55.61" y="137.90" width="6.81" height="6.80" fill="#f8d8c8"/>
<rect x="61.82" y="137.90" width="6.81" height="6.80" fill="#c2c2c2"/>
<rect x="68.03" y="137.90" width="6.81" height="6.80" fill="#f6f2f1"/>
<rect x="74.24" y="137.90" width="13.02" height="6.80" fill="#dde9f2"/>
<rect x="86.67" y="137.90" width="6.81" height="6.80" fill="#f6f2f1"/>
<rect x="92.88" y="137.90" width="19.23" height="6.80" fill="#c2c2c2"/>
<rect x="111.51" y="137.90" width="6.81" height="6.80" fill="#f6f2f1"/>
<rect x="117.72" y="137.90" width="13.02" height="6.80" fill="#dde9f2"/>
<rect x="130.14" y="137.90" width="31.66" height="6.80" fill="#f1ac92"/>
<rect x="161.20" y="137.90" width="13.02" height="6.80" fill="#dc7563"/>
<rect x="173.62" y="137.90" width="25.44" height="6.80" fill="#f1ac92"/>
<rect x="198.46" y="137.90" width="13.02" height="6.80" fill="#f8d8c8"/>
<rect x="210.89" y="137.90" width="6.81" height="6.80" fill="#f6f2f1"/>
<rect x="217.10" y="137.90" width="13.02" height="6.80" fill="#c2c2c2"/>
<rect x="229.52" y="137.90" width="6.81" height="6.80" fill="#f8d8c8"/>
<rect x="235.73" y="137.90" width="25.44" height="6.80" fill="#f6f2f1"/>
<rect x="260.57" y="137.90" width="6.81" height="6.80" fill="#dde9f2"/>
<rect x="266.79" y="137.90" width="13.02" height="6.80" fill="#f6f2f1"/>
<rect x="279.21" y="137.90" width="19.23" height="6.80" fill="#dde9f2"/>
<rect x="297.84" y="137.90" width="19.23" height="6.80" fill="#f6f2f1"/>
<rect x="316.47" y="137.90" width="13.02" height="6.80" fill="#dde9f2"/>
<rect x="328.89" y="137.90" width="25.44" height="6.80" fill="#f6f2f1"/>
<rect x="353.74" y="137.90" width="6.81" height="6.80" fill="#f8d8c8"/>
<rect x="359.95" y="137.90" width="13.02" height="6.80" fill="#f1ac92"/>
<rect x="372.37" y="137.90" width="13.02" height="6.80" fill="#f8d8c8"/>
<rect x="384.79" y="137.90" width="19.23" height="6.80" fill="#c2c2c2"/>
<rect x="403.43" y="137.90" width="31.66" height="6.80" fill="#dde9f2"/>
<rect x="434.48" y="137.90" width="6.81" height="6.80" fill="#f6f2f1"/>
<rect x="440.69" y="137.90" width="19.23" height="6.80" fill="#dde9f2"/>
<rect x="459.33" y="137.90" width="19.23" height="6.80" fill="#f6f2f1"/>
<rect x="477.96" y="137.90" width="6.81" height="6.80" fill="#f8d8c8"/>
<rect x="484.17" y="137.90" width="6.81" height="6.80" fill="#f1ac92"/>
<rect x="490.38" y="137.90" width="6.81" height="6.80" fill="#dc7563"/>
<rect x="49.40" y="144.10" width="6.81" height="6.80" fill="#dc7563"/>
<rect x="55.61" y="144.10" width="19.23" height="6.80" fill="#dde9f2"/>
<rect x="74.24" y="144.10" width="13.02" height="6.80" fill="#3d85bf"/>
<rect x="86.67" y="144.10" width="6.81" height="6.80" fill="#dde9f2"/>
<rect x="92.88" y="144.10" width="19.23" height="6.80" fill="#f6f2f1"/>
<rect x="111.51" y="144.10" width="13.02" height="6.80" fill="#f8d8c8"/>
<rect x="123.93" y="144.10" width="13.02" height="6.80" fill="#f1ac92"/>
<rect x="136.35" y="144.10" width="6.81" height="6.80" fill="#dc7563"/>
<rect x="142.56" y="144.10" width="6.81" height="6.80" fill="#f1ac92"/>
<rect x="148.78" y="144.10" width="25.44" height="6.80" fill="#dc7563"/>
<rect x="173.62" y="144.10" width="19.23" height="6.80" fill="#f1ac92"/>
<rect x="192.25" y="144.10" width="6.81" height="6.80" fill="#f8d8c8"/>
<rect x="198.46" y="144.10" width="6.81" height="6.80" fill="#f6f2f1"/>
<rect x="204.68" y="144.10" width="6.81" height="6.80" fill="#f8d8c8"/>
<rect x="210.89" y="144.10" width="6.81" height="6.80" fill="#f1ac92"/>
<rect x="217.10" y="144.10" width="25.44" height="6.80" fill="#f8d8c8"/>
<rect x="241.94" y="144.10" width="62.71" height="6.80" fill="#f6f2f1"/>
<rect x="304.05" y="144.10" width="6.81" height="6.80" fill="#f8d8c8"/>
<rect x="310.26" y="144.10" width="25.44" height="6.80" fill="#f6f2f1"/>
<rect x="335.11" y="144.10" width="13.02" height="6.80" fill="#f8d8c8"/>
<rect x="347.53" y="144.10" width="19.23" height="6.80" fill="#f1ac92"/>
<rect x="366.16" y="144.10" width="19.23" height="6.80" fill="#f8d8c8"/>
<rect x="384.79" y="144.10" width="13.02" height="6.80" fill="#c2c2c2"/>
<rect x="397.22" y="144.10" width="6.81" height="6.80" fill="#3d85bf"/>
<rect x="403.43" y="144.10" width="6.81" height="6.80" fill="#dde9f2"/>
<rect x="409.64" y="144.10" width="13.02" height="6.80" fill="#f6f2f1"/>
<rect x="422.06" y="144.10" width="13.02" height="6.80" fill="#dde9f2"/>
<rect x="434.48" y="144.10" width="6.81" height="6.80" fill="#f6f2f1"/>
<rect x="440.69" y="144.10" width="6.81" height="6.80" fill="#f8d8c8"/>
<rect x="446.90" y="144.10" width="19.23" height="6.80" fill="#f6f2f1"/>
<rect x="465.54" y="144.10" width="19.23" height="6.80" fill="#f8d8c8"/>
<rect x="484.17" y="144.10" width="6.81" height="6.80" fill="#f1ac92"/>
<rect x="490.38" y="144.10" width="6.81" height="6.80" fill="#dc7563"/>
<rect x="49.40" y="150.30" width="6.81" height="6.80" fill="#f8d8c8"/>
<rect x="55.61" y="150.30" width="6.81" height="6.80" fill="#dc7563"/>
<rect x="61.82" y="150.30" width="19.23" height="6.80" fill="#b7202f"/>
<rect x="80.45" y="150.30" width="6.81" height="6.80" fill="#f8d8c8"/>
<rect x="86.67" y="150.30" width="6.81" height="6.80" fill="#f6f2f1"/>
<rect x="92.88" y="150.30" width="6.81" height="6.80" fill="#b7202f"/>
<rect x="99.09" y="150.30" width="6.81" height="6.80" fill="#dc7563"/>
<rect x="105.30" y="150.30" width="6.81" height="6.80" fill="#9fc8e0"/>
<rect x="111.51" y="150.30" width="6.81" height="6.80" fill="#dc7563"/>
<rect x="117.72" y="150.30" width="6.81" height="6.80" fill="#b7202f"/>
<rect x="123.93" y="150.30" width="6.81" height="6.80" fill="#dc7563"/>
<rect x="130.14" y="150.30" width="13.02" height="6.80" fill="#f1ac92"/>
<rect x="142.56" y="150.30" width="6.81" height="6.80" fill="#dc7563"/>
<rect x="148.78" y="150.30" width="19.23" height="6.80" fill="#f1ac92"/>
<rect x="167.41" y="150.30" width="6.81" height="6.80" fill="#dc7563"/>
<rect x="173.62" y="150.30" width="13.02" height="6.80" fill="#b7202f"/>
<rect x="186.04" y="150.30" width="13.02" height="6.80" fill="#f1ac92"/>
<rect x="198.46" y="150.30" width="13.02" height="6.80" fill="#f8d8c8"/>
<rect x="210.89" y="150.30" width="13.02" height="6.80" fill="#f1ac92"/>
<rect x="223.31" y="150.30" width="25.44" height="6.80" fill="#f8d8c8"/>
<rect x="248.15" y="150.30" width="13.02" height="6.80" fill="#f6f2f1"/>
<rect x="260.57" y="150.30" width="6.81" height="6.80" fill="#dde9f2"/>
<rect x="266.79" y="150.30" width="6.81" height="6.80" fill="#f6f2f1"/>
<rect x="273.00" y="150.30" width="19.23" height="6.80" fill="#dde9f2"/>
<rect x="291.63" y="150.30" width="6.81" height="6.80" fill="#f6f2f1"/>
<rect x="297.84" y="150.30" width="13.02" height="6.80" fill="#f8d8c8"/>
<rect x="310.26" y="150.30" width="13.02" height="6.80" fill="#f6f2f1"/>
<rect x="322.68" y="150.30" width="6.81" height="6.80" fill="#c2c2c2"/>
<rect x="328.89" y="150.30" width="6.81" height="6.80" fill="#f6f2f1"/>
<rect x="335.11" y="150.30" width="13.02" height="6.80" fill="#dde9f2"/>
<rect x="347.53" y="150.30" width="13.02" height="6.80" fill="#f6f2f1"/>
<rect x="359.95" y="150.30" width="19.23" height="6.80" fill="#f8d8c8"/>
<rect x="378.58" y="150.30" width="13.02" height="6.80" fill="#c2c2c2"/>
<rect x="391.00" y="150.30" width="13.02" height="6.80" fill="#3d85bf"/>
<rect x="403.43" y="150.30" width="6.81" height="6.80" fill="#9fc8e0"/>
<rect x="409.64" y="150.30" width="13.02" height="6.80" fill="#f8d8c8"/>
<rect x="422.06" y="150.30" width="13.02" height="6.80" fill="#dc7563"/>
<rect x="434.48" y="150.30" width="6.81" height="6.80" fill="#b7202f"/>
<rect x="440.69" y="150.30" width="6.81" height="6.80" fill="#dc7563"/>
<rect x="446.90" y="150.30" width="6.81" height="6.80" fill="#f1ac92"/>
<rect x="453.12" y="150.30" width="6.81" height="6.80" fill="#f8d8c8"/>
<rect x="459.33" y="150.30" width="13.02" height="6.80" fill="#f6f2f1"/>
<rect x="471.75" y="150.30" width="13.02" height="6.80" fill="#dde9f2"/>
<rect x="484.17" y="150.30" width="6.81" height="6.80" fill="#f8d8c8"/>
<rect x="490.38" y="150.30" width="6.81" height="6.80" fill="#f1ac92"/>
<rect x="49.40" y="156.50" width="6.81" height="6.80" fill="#f8d8c8"/>
<rect x="55.61" y="156.50" width="13.02" height="6.80" fill="#f6f2f1"/>
<rect x="68.03" y="156.50" width="6.81" height="6.80" fill="#dde9f2"/>
<rect x="74.24" y="156.50" width="6.81" height="6.80" fill="#f6f2f1"/>
<rect x="80.45" y="156.50" width="6.81" height="6.80" fill="#c2c2c2"/>
<rect x="86.67" y="156.50" width="6.81" height="6.80" fill="#f6f2f1"/>
<rect x="92.88" y="156.50" width="6.81" height="6.80" fill="#f8d8c8"/>
<rect x="99.09" y="156.50" width="6.81" height="6.80" fill="#f1ac92"/>
<rect x="105.30" y="156.50" width="19.23" height="6.80" fill="#f6f2f1"/>
<rect x="123.93" y="156.50" width="6.81" height="6.80" fill="#f1ac92"/>
<rect x="130.14" y="156.50" width="6.81" height="6.80" fill="#dc7563"/>
<rect x="136.35" y="156.50" width="6.81" height="6.80" fill="#f1ac92"/>
<rect x="142.56" y="156.50" width="6.81" height="6.80" fill="#dc7563"/>
<rect x="148.78" y="156.50" width="19.23" height="6.80" fill="#f1ac92"/>
<rect x="167.41" y="156.50" width="6.81" height="6.80" fill="#c2c2c2"/>
<rect x="173.62" y="156.50" width="25.44" height="6.80" fill="#f6f2f1"/>
<rect x="198.46" y="156.50" width="13.02" height="6.80" fill="#f8d8c8"/>
<rect x="210.89" y="156.50" width="13.02" height="6.80" fill="#f6f2f1"/>
<rect x="223.31" y="156.50" width="13.02" height="6.80" fill="#c2c2c2"/>
<rect x="235.73" y="156.50" width="13.02" height="6.80" fill="#f6f2f1"/>
<rect x="248.15" y="156.50" width="6.81" height="6.80" fill="#dde9f2"/>
<rect x="254.36" y="156.50" width="13.02" height="6.80" fill="#f6f2f1"/>
<rect x="266.79" y="156.50" width="13.02" height="6.80" fill="#dde9f2"/>
<rect x="279.21" y="156.50" width="6.81" height="6.80" fill="#9fc8e0"/>
<rect x="285.42" y="156.50" width="6.81" height="6.80" fill="#dde9f2"/>
<rect x="291.63" y="156.50" width="6.81" height="6.80" fill="#f8d8c8"/>
<rect x="297.84" y="156.50" width="13.02" height="6.80" fill="#f1ac92"/>
<rect x="310.26" y="156.50" width="13.02" height="6.80" fill="#f8d8c8"/>
<rect x="322.68" y="156.50" width="6.81" height="6.80" fill="#f6f2f1"/>
<rect x="328.89" y="156.50" width="6.81" height="6.80" fill="#f8d8c8"/>
<rect x="335.11" y="156.50" width="25.44" height="6.80" fill="#f1ac92"/>
<rect x="359.95" y="156.50" width="13.02" height="6.80" fill="#f6f2f1"/>
<rect x="372.37" y="156.50" width="6.81" height="6.80" fill="#f8d8c8"/>
<rect x="378.58" y="156.50" width="19.23" height="6.80" fill="#c2c2c2"/>
<rect x="397.22" y="156.50" width="6.81" height="6.80" fill="#f6f2f1"/>
<rect x="403.43" y="156.50" width="6.81" height="6.80" fill="#f8d8c8"/>
<rect x="409.64" y="156.50" width="6.81" height="6.80" fill="#dc7563"/>
<rect x="415.85" y="156.50" width="6.81" height="6.80" fill="#b7202f"/>
<rect x="422.06" y="156.50" width="6.81" height="6.80" fill="#dc7563"/>
<rect x="428.27" y="156.50" width="6.81" height="6.80" fill="#f1ac92"/>
<rect x="434.48" y="156.50" width="6.81" height="6.80" fill="#f8d8c8"/>
<rect x="440.69" y="156.50" width="13.02" height="6.80" fill="#f6f2f1"/>
<rect x="453.12" y="156.50" width="13.02" height="6.80" fill="#c2c2c2"/>
<rect x="465.54" y="156.50" width="13.02" height="6.80" fill="#f8d8c8"/>
<rect x="477.96" y="156.50" width="6.81" height="6.80" fill="#f1ac92"/>
<rect x="484.17" y="156.50" width="13.02" height="6.80" fill="#f8d8c8"/>
<rect x="49.40" y="162.70" width="6.81" height="6.80" fill="#f1ac92"/>
<rect x="55.61" y="162.70" width="6.81" height="6.80" fill="#dc7563"/>
<rect x="61.82" y="162.70" width="6.81" height="6.80" fill="#f1ac92"/>
<rect x="68.03" y="162.70" width="6.81" height="6.80" fill="#f8d8c8"/>
<rect x="74.24" y="162.70" width="6.81" height="6.80" fill="#f6f2f1"/>
<rect x="80.45" y="162.70" width="6.81" height="6.80" fill="#f8d8c8"/>
<rect x="86.67" y="162.70" width="31.66" height="6.80" fill="#c2c2c2"/>
<rect x="117.72" y="162.70" width="6.81" height="6.80" fill="#f1ac92"/>
<rect x="123.93" y="162.70" width="6.81" height="6.80" fill="#b7202f"/>
<rect x="130.14" y="162.70" width="6.81" height="6.80" fill="#dc7563"/>
<rect x="136.35" y="162.70" width="13.02" height="6.80" fill="#f1ac92"/>
<rect x="148.78" y="162.70" width="13.02" height="6.80" fill="#dc7563"/>
<rect x="161.20" y="162.70" width="6.81" height="6.80" fill="#f8d8c8"/>
<rect x="167.41" y="162.70" width="6.81" height="6.80" fill="#f1ac92"/>
<rect x="173.62" y="162.70" width="6.81" height="6.80" fill="#f6f2f1"/>
<rect x="179.83" y="162.70" width="6.81" height="6.80" fill="#dde9f2"/>
<rect x="186.04" y="162.70" width="6.81" height="6.80" fill="#9fc8e0"/>
<rect x="192.25" y="162.70" width="6.81" height="6.80" fill="#3d85bf"/>
<rect x="198.46" y="162.70" width="6.81" height="6.80" fill="#dde9f2"/>
<rect x="204.68" y="162.70" width="6.81" height="6.80" fill="#dc7563"/>
<rect x="210.89" y="162.70" width="6.81" height="6.80" fill="#f8d8c8"/>
<rect x="217.10" y="162.70" width="6.81" height="6.80" fill="#f6f2f1"/>
<rect x="223.31" y="162.70" width="13.02" height="6.80" fill="#c2c2c2"/>
<rect x="235.73" y="162.70" width="6.81" height="6.80" fill="#f8d8c8"/>
<rect x="241.94" y="162.70" width="6.81" height="6.80" fill="#f1ac92"/>
<rect x="248.15" y="162.70" width="13.02" height="6.80" fill="#f8d8c8"/>
<rect x="260.57" y="162.70" width="13.02" height="6.80" fill="#f1ac92"/>
<rect x="273.00" y="162.70" width="6.81" height="6.80" fill="#3d85bf"/>
<rect x="279.21" y="162.70" width="6.81" height="6.80" fill="#dde9f2"/>
<rect x="285.42" y="162.70" width="31.66" height="6.80" fill="#b7202f"/>
<rect x="316.47" y="162.70" width="6.81" height="6.80" fill="#f1ac92"/>
<rect x="322.68" y="162.70" width="6.81" height="6.80" fill="#f8d8c8"/>
<rect x="328.89" y="162.70" width="13.02" height="6.80" fill="#f1ac92"/>
<rect x="341.32" y="162.70" width="13.02" height="6.80" fill="#dc7563"/>
<rect x="353.74" y="162.70" width="13.02" height="6.80" fill="#f1ac92"/>
<rect x="366.16" y="162.70" width="13.02" height="6.80" fill="#f8d8c8"/>
<rect x="378.58" y="162.70" width="13.02" height="6.80" fill="#c2c2c2"/>
<rect x="391.00" y="162.70" width="19.23" height="6.80" fill="#7a0622"/>
<rect x="409.64" y="162.70" width="6.81" height="6.80" fill="#dc7563"/>
<rect x="415.85" y="162.70" width="6.81" height="6.80" fill="#f8d8c8"/>
<rect x="422.06" y="162.70" width="25.44" height="6.80" fill="#f1ac92"/>
<rect x="446.90" y="162.70" width="19.23" height="6.80" fill="#c2c2c2"/>
<rect x="465.54" y="162.70" width="6.81" height="6.80" fill="#f8d8c8"/>
<rect x="471.75" y="162.70" width="25.44" height="6.80" fill="#c2c2c2"/>
<rect x="49.40" y="168.90" width="13.02" height="6.80" fill="#c2c2c2"/>
<rect x="61.82" y="168.90" width="13.02" height="6.80" fill="#dc7563"/>
<rect x="74.24" y="168.90" width="6.81" height="6.80" fill="#f1ac92"/>
<rect x="80.45" y="168.90" width="13.02" height="6.80" fill="#c2c2c2"/>
<rect x="92.88" y="168.90" width="6.81" height="6.80" fill="#f1ac92"/>
<rect x="99.09" y="168.90" width="6.81" height="6.80" fill="#c2c2c2"/>
<rect x="105.30" y="168.90" width="6.81" height="6.80" fill="#f1ac92"/>
<rect x="111.51" y="168.90" width="6.81" height="6.80" fill="#c2c2c2"/>
<rect x="117.72" y="168.90" width="6.81" height="6.80" fill="#dc7563"/>
<rect x="123.93" y="168.90" width="6.81" height="6.80" fill="#b7202f"/>
<rect x="130.14" y="168.90" width="13.02" height="6.80" fill="#dc7563"/>
<rect x="142.56" y="168.90" width="6.81" height="6.80" fill="#f1ac92"/>
<rect x="148.78" y="168.90" width="13.02" height="6.80" fill="#b7202f"/>
<rect x="161.20" y="168.90" width="13.02" height="6.80" fill="#f1ac92"/>
<rect x="173.62" y="168.90" width="31.66" height="6.80" fill="#dc7563"/>
<rect x="204.68" y="168.90" width="6.81" height="6.80" fill="#b7202f"/>
<rect x="210.89" y="168.90" width="37.87" height="6.80" fill="#7a0622"/>
<rect x="248.15" y="168.90" width="13.02" height="6.80" fill="#b7202f"/>
<rect x="260.57" y="168.90" width="6.81" height="6.80" fill="#dc7563"/>
<rect x="266.79" y="168.90" width="6.81" height="6.80" fill="#f1ac92"/>
<rect x="273.00" y="168.90" width="6.81" height="6.80" fill="#9fc8e0"/>
<rect x="279.21" y="168.90" width="6.81" height="6.80" fill="#dde9f2"/>
<rect x="285.42" y="168.90" width="6.81" height="6.80" fill="#f8d8c8"/>
<rect x="291.63" y="168.90" width="6.81" height="6.80" fill="#f1ac92"/>
<rect x="297.84" y="168.90" width="13.02" height="6.80" fill="#dc7563"/>
<rect x="310.26" y="168.90" width="37.87" height="6.80" fill="#b7202f"/>
<rect x="347.53" y="168.90" width="6.81" height="6.80" fill="#dc7563"/>
<rect x="353.74" y="168.90" width="19.23" height="6.80" fill="#f1ac92"/>
<rect x="372.37" y="168.90" width="6.81" height="6.80" fill="#f8d8c8"/>
<rect x="378.58" y="168.90" width="19.23" height="6.80" fill="#3d85bf"/>
<rect x="397.22" y="168.90" width="6.81" height="6.80" fill="#9fc8e0"/>
<rect x="403.43" y="168.90" width="13.02" height="6.80" fill="#f8d8c8"/>
<rect x="415.85" y="168.90" width="6.81" height="6.80" fill="#f6f2f1"/>
<rect x="422.06" y="168.90" width="6.81" height="6.80" fill="#f8d8c8"/>
<rect x="428.27" y="168.90" width="13.02" height="6.80" fill="#f1ac92"/>
<rect x="440.69" y="168.90" width="13.02" height="6.80" fill="#c2c2c2"/>
<rect x="453.12" y="168.90" width="6.81" height="6.80" fill="#f6f2f1"/>
<rect x="459.33" y="168.90" width="6.81" height="6.80" fill="#f8d8c8"/>
<rect x="465.54" y="168.90" width="6.81" height="6.80" fill="#f1ac92"/>
<rect x="471.75" y="168.90" width="6.81" height="6.80" fill="#c2c2c2"/>
<rect x="477.96" y="168.90" width="6.81" height="6.80" fill="#f6f2f1"/>
<rect x="484.17" y="168.90" width="6.81" height="6.80" fill="#f1ac92"/>
<rect x="490.38" y="168.90" width="6.81" height="6.80" fill="#c2c2c2"/>
<rect x="49.40" y="175.10" width="124.82" height="6.80" fill="#c2c2c2"/>
<rect x="173.62" y="175.10" width="25.44" height="6.80" fill="#dc7563"/>
<rect x="198.46" y="175.10" width="37.87" height="6.80" fill="#b7202f"/>
<rect x="235.73" y="175.10" width="13.02" height="6.80" fill="#dc7563"/>
<rect x="248.15" y="175.10" width="56.50" height="6.80" fill="#c2c2c2"/>
<rect x="304.05" y="175.10" width="6.81" height="6.80" fill="#b7202f"/>
<rect x="310.26" y="175.10" width="25.44" height="6.80" fill="#7a0622"/>
<rect x="335.11" y="175.10" width="13.02" height="6.80" fill="#b7202f"/>
<rect x="347.53" y="175.10" width="19.23" height="6.80" fill="#c2c2c2"/>
<rect x="366.16" y="175.10" width="6.81" height="6.80" fill="#b7202f"/>
<rect x="372.37" y="175.10" width="124.82" height="6.80" fill="#c2c2c2"/>
</g>
<path d="M11.8,56.6 L16.7,57.5 L22.9,55.4 L31.6,54.7 L32.8,55.1 L31.6,58.8 L32.8,60.1 L35.5,60.2 L37.8,60.9 L42.7,63.4 L44.0,61.2 L49.0,61.3 L56.4,62.3 L59.3,62.2 L59.5,63.9 L60.8,67.5 L63.2,71.9 L65.4,77.4 L67.0,78.7 L68.2,81.8 L71.9,84.9 L72.9,86.4 L74.4,88.1 L82.7,86.4 L82.5,88.0 L80.6,93.6 L78.8,95.4 L76.3,98.5 L72.6,101.6 L70.7,103.2 L68.8,105.3 L67.8,108.4 L68.2,110.9 L69.5,114.0 L69.5,119.6 L65.1,122.7 L63.2,127.0 L63.2,130.8 L60.0,133.1 L59.5,136.3 L57.7,138.2 L53.9,141.9 L50.8,143.2 L46.5,143.2 L44.0,144.2 L42.1,143.4 L41.5,140.7 L39.6,136.5 L37.8,133.9 L37.2,128.9 L35.3,125.8 L33.8,122.1 L34.4,117.1 L35.9,114.6 L35.3,111.5 L34.3,108.4 L33.8,106.0 L30.9,102.9 L30.7,100.4 L31.3,96.7 L29.7,95.4 L26.6,95.7 L24.7,93.2 L21.6,93.2 L17.9,94.8 L15.4,94.8 L9.8,95.5 L6.7,93.6 L3.0,90.7 L0.5,87.6 L-1.7,85.5 L-2.6,82.8 L-1.4,80.5 L-1.0,76.8 L-2.0,75.0 L0.5,71.5 L2.9,66.8 L6.7,64.4 L7.0,61.9 L8.6,59.7 L10.7,58.8 Z M459.0,56.6 L463.8,57.5 L470.1,55.4 L478.8,54.7 L480.0,55.1 L478.8,58.8 L480.0,60.1 L482.7,60.2 L485.0,60.9 L489.9,63.4 L491.2,61.2 L496.1,61.3 L503.6,62.3 L506.5,62.2 L506.7,63.9 L507.9,67.5 L510.4,71.9 L512.5,77.4 L514.2,78.7 L515.4,81.8 L519.1,84.9 L520.1,86.4 L521.6,88.1 L529.9,86.4 L529.7,88.0 L527.8,93.6 L526.0,95.4 L523.5,98.5 L519.7,101.6 L517.9,103.2 L516.0,105.3 L515.0,108.4 L515.4,110.9 L516.6,114.0 L516.6,119.6 L512.3,122.7 L510.4,127.0 L510.4,130.8 L507.2,133.1 L506.7,136.3 L504.8,138.2 L501.1,141.9 L498.0,143.2 L493.7,143.2 L491.2,144.2 L489.3,143.4 L488.7,140.7 L486.8,136.5 L485.0,133.9 L484.3,128.9 L482.5,125.8 L481.0,122.1 L481.6,117.1 L483.1,114.6 L482.5,111.5 L481.5,108.4 L481.0,106.0 L478.1,102.9 L477.9,100.4 L478.5,96.7 L476.9,95.4 L473.8,95.7 L471.9,93.2 L468.8,93.2 L465.1,94.8 L462.6,94.8 L457.0,95.5 L453.9,93.6 L450.2,90.7 L447.7,87.6 L445.5,85.5 L444.6,82.8 L445.8,80.5 L446.2,76.8 L445.2,75.0 L447.7,71.5 L450.1,66.8 L453.9,64.4 L454.2,61.9 L455.8,59.7 L457.9,58.8 Z M80.4,115.9 L81.9,120.2 L80.9,122.1 L78.8,128.3 L77.5,132.0 L75.0,132.6 L73.4,129.5 L72.9,127.7 L74.2,125.2 L73.8,122.1 L76.3,120.6 L78.5,119.0 Z M12.2,56.4 L11.3,55.4 L9.8,54.9 L8.1,55.1 L8.2,53.0 L7.3,52.9 L8.1,50.8 L8.2,48.9 L7.6,47.7 L9.2,46.8 L14.2,47.1 L17.3,47.2 L17.7,44.0 L16.0,42.3 L13.3,41.5 L13.6,40.7 L17.3,40.6 L16.9,39.4 L19.1,39.6 L21.0,38.8 L22.2,37.6 L24.1,37.1 L25.0,35.3 L27.8,34.7 L29.7,34.0 L29.8,32.2 L29.3,30.6 L32.2,29.5 L32.2,30.9 L34.0,33.8 L36.5,34.0 L41.5,33.0 L45.2,32.8 L45.2,30.3 L48.3,30.1 L49.6,28.5 L48.3,27.6 L53.9,27.1 L56.4,26.6 L54.5,25.9 L51.4,26.1 L47.7,26.7 L45.8,25.4 L45.8,22.9 L50.2,20.4 L50.8,19.4 L46.5,19.4 L45.8,21.0 L42.7,22.3 L40.9,23.7 L40.6,25.7 L42.5,26.8 L39.6,29.7 L39.0,31.3 L35.3,32.2 L34.7,30.9 L33.4,28.5 L31.6,27.8 L29.1,29.1 L26.6,28.7 L25.4,26.6 L25.4,24.1 L27.8,22.9 L31.6,21.6 L34.7,19.2 L37.8,16.7 L40.3,15.1 L42.7,14.2 L50.2,14.0 L53.9,13.2 L60.1,14.6 L63.9,15.3 L70.1,17.1 L69.2,18.8 L62.6,18.4 L62.0,20.4 L64.5,21.3 L66.3,20.9 L69.5,20.9 L73.2,18.9 L74.4,16.4 L76.9,16.6 L80.0,16.7 L85.0,16.1 L86.2,16.3 L91.2,15.6 L94.9,14.4 L101.1,14.8 L102.4,13.6 L104.9,10.5 L108.6,11.1 L110.4,16.7 L111.7,17.3 L112.9,16.1 L109.8,14.2 L111.1,10.5 L118.5,6.8 L242.7,6.8 L255.2,6.8 L255.2,19.2 L250.2,21.0 L245.2,20.4 L242.7,19.8 L240.3,21.0 L239.6,23.5 L235.3,24.4 L230.9,26.6 L225.3,26.4 L222.2,27.2 L220.4,29.1 L221.6,30.9 L220.1,32.8 L217.9,34.0 L216.0,35.5 L213.8,37.8 L212.9,35.3 L212.6,31.6 L213.9,29.3 L216.0,29.1 L219.1,26.2 L222.2,24.4 L217.9,24.5 L217.3,25.0 L213.5,24.7 L211.7,27.5 L208.0,27.8 L203.0,27.3 L196.8,27.3 L193.7,29.3 L189.3,31.6 L186.8,33.0 L189.9,34.0 L193.7,35.3 L193.7,39.0 L191.2,42.7 L187.5,46.8 L183.7,47.4 L181.6,48.3 L180.4,50.2 L177.5,51.6 L178.4,53.1 L180.0,55.1 L179.9,57.0 L176.3,58.2 L176.3,55.1 L174.7,53.9 L173.8,51.4 L171.9,51.6 L170.1,52.6 L169.7,50.3 L167.0,52.1 L165.5,53.0 L166.7,54.5 L168.8,54.1 L171.3,54.7 L168.8,56.1 L167.2,57.6 L168.2,58.2 L169.4,61.3 L170.6,62.8 L170.4,65.0 L168.2,68.1 L166.3,70.6 L163.9,72.5 L160.1,73.5 L157.0,74.3 L155.8,75.0 L156.2,75.8 L155.4,74.3 L153.9,74.2 L151.8,75.3 L150.8,77.4 L152.1,79.9 L154.3,82.0 L154.9,84.5 L154.8,86.7 L151.7,88.1 L149.6,90.3 L149.0,88.1 L147.1,87.4 L145.2,85.3 L144.0,84.3 L142.7,85.5 L142.4,88.2 L143.6,90.5 L145.2,92.6 L147.1,94.2 L147.7,96.0 L148.6,99.3 L147.7,99.4 L145.0,97.5 L143.7,96.3 L143.7,93.6 L141.3,91.1 L141.5,88.6 L140.6,83.6 L140.4,80.5 L137.8,81.4 L136.5,81.2 L136.2,78.7 L134.7,76.4 L133.4,75.0 L132.8,73.0 L130.9,73.7 L129.1,74.1 L127.2,74.3 L124.7,76.8 L121.4,79.9 L118.9,81.8 L118.8,84.9 L118.3,88.2 L116.3,89.8 L115.4,91.0 L114.2,90.1 L113.3,87.4 L111.7,84.3 L110.4,81.2 L109.6,77.4 L109.2,74.7 L106.1,75.0 L104.9,73.1 L103.6,71.6 L102.4,70.2 L101.7,69.5 L95.5,69.9 L90.3,69.1 L88.7,67.5 L86.2,68.0 L83.1,66.5 L81.9,65.0 L80.6,63.8 L78.8,63.9 L79.4,66.0 L81.3,68.1 L81.9,70.0 L83.1,68.8 L83.1,69.6 L83.7,71.2 L86.2,71.0 L88.1,69.4 L89.1,68.5 L89.2,70.1 L91.8,71.6 L93.4,73.1 L91.8,75.6 L89.9,77.7 L87.5,79.9 L83.7,81.4 L78.8,83.6 L75.0,85.1 L73.2,85.3 L72.6,83.6 L71.9,80.5 L69.5,77.4 L67.8,74.3 L66.3,71.2 L64.5,68.8 L62.6,66.3 L62.5,64.4 L61.4,66.3 L59.5,63.9 L59.3,62.2 L62.0,61.9 L62.6,60.1 L63.9,57.0 L63.9,55.4 L59.5,56.2 L57.0,55.4 L55.2,55.6 L53.3,55.1 L52.1,52.6 L52.1,51.0 L51.4,50.4 L48.7,50.5 L47.7,52.0 L49.0,53.9 L47.7,54.5 L47.1,55.9 L45.8,55.1 L44.6,52.6 L43.2,51.0 L43.4,49.5 L42.1,48.4 L39.6,47.1 L37.8,45.8 L36.3,44.5 L34.4,44.7 L35.9,46.9 L39.0,49.0 L40.1,50.0 L41.5,50.5 L42.1,51.3 L40.5,50.9 L40.5,52.4 L39.8,53.3 L38.6,53.9 L39.0,52.6 L38.5,51.4 L36.8,50.4 L34.4,49.3 L31.9,47.1 L31.6,46.4 L30.3,45.9 L28.5,46.7 L24.7,47.2 L22.9,47.4 L23.1,49.0 L19.4,52.0 L19.1,53.3 L16.7,55.5 Z M459.4,56.4 L458.5,55.4 L457.0,54.9 L455.3,55.1 L455.4,53.0 L454.5,52.9 L455.3,50.8 L455.4,48.9 L454.8,47.7 L456.4,46.8 L461.4,47.1 L464.5,47.2 L464.8,44.0 L463.2,42.3 L460.5,41.5 L460.7,40.7 L464.5,40.6 L464.1,39.4 L466.3,39.6 L468.2,38.8 L469.4,37.6 L471.3,37.1 L472.2,35.3 L475.0,34.7 L476.9,34.0 L477.0,32.2 L476.5,30.6 L479.4,29.5 L479.4,30.9 L481.2,33.8 L483.7,34.0 L488.7,33.0 L492.4,32.8 L492.4,30.3 L495.5,30.1 L496.8,28.5 L495.5,27.6 L501.1,27.1 L503.6,26.6 L501.7,25.9 L498.6,26.1 L494.9,26.7 L493.0,25.4 L493.0,22.9 L497.4,20.4 L498.0,19.4 L493.7,19.4 L493.0,21.0 L489.9,22.3 L488.1,23.7 L487.8,25.7 L489.7,26.8 L486.8,29.7 L486.2,31.3 L482.5,32.2 L481.9,30.9 L480.6,28.5 L478.8,27.8 L476.3,29.1 L473.8,28.7 L472.5,26.6 L472.5,24.1 L475.0,22.9 L478.8,21.6 L481.9,19.2 L485.0,16.7 L487.5,15.1 L489.9,14.2 L497.4,14.0 L501.1,13.2 L507.3,14.6 L511.1,15.3 L517.3,17.1 L516.4,18.8 L509.8,18.4 L509.2,20.4 L511.7,21.3 L513.5,20.9 L516.6,20.9 L520.4,18.9 L521.6,16.4 L524.1,16.6 L527.2,16.7 L532.2,16.1 L533.4,16.3 L538.4,15.6 L542.1,14.4 L548.3,14.8 L549.6,13.6 L552.0,10.5 L555.8,11.1 L557.6,16.7 L558.9,17.3 L560.1,16.1 L557.0,14.2 L558.3,10.5 L565.7,6.8 L689.9,6.8 L702.4,6.8 L702.4,19.2 L697.4,21.0 L692.4,20.4 L689.9,19.8 L687.4,21.0 L686.8,23.5 L682.5,24.4 L678.1,26.6 L672.5,26.4 L669.4,27.2 L667.6,29.1 L668.8,30.9 L667.3,32.8 L665.1,34.0 L663.2,35.5 L661.0,37.8 L660.1,35.3 L659.7,31.6 L661.1,29.3 L663.2,29.1 L666.3,26.2 L669.4,24.4 L665.1,24.5 L664.5,25.0 L660.7,24.7 L658.9,27.5 L655.1,27.8 L650.2,27.3 L644.0,27.3 L640.9,29.3 L636.5,31.6 L634.0,33.0 L637.1,34.0 L640.9,35.3 L640.9,39.0 L638.4,42.7 L634.7,46.8 L630.9,47.4 L628.8,48.3 L627.6,50.2 L624.7,51.6 L625.6,53.1 L627.2,55.1 L627.1,57.0 L623.5,58.2 L623.5,55.1 L621.9,53.9 L621.0,51.4 L619.1,51.6 L617.3,52.6 L616.9,50.3 L614.2,52.1 L612.7,53.0 L613.9,54.5 L616.0,54.1 L618.5,54.7 L616.0,56.1 L614.4,57.6 L615.4,58.2 L616.6,61.3 L617.8,62.8 L617.6,65.0 L615.4,68.1 L613.5,70.6 L611.1,72.5 L607.3,73.5 L604.2,74.3 L603.0,75.0 L603.3,75.8 L602.6,74.3 L601.1,74.2 L599.0,75.3 L598.0,77.4 L599.2,79.9 L601.5,82.0 L602.1,84.5 L602.0,86.7 L598.9,88.1 L596.8,90.3 L596.1,88.1 L594.3,87.4 L592.4,85.3 L591.2,84.3 L589.9,85.5 L589.6,88.2 L590.8,90.5 L592.4,92.6 L594.3,94.2 L594.9,96.0 L595.8,99.3 L594.9,99.4 L592.2,97.5 L590.9,96.3 L590.9,93.6 L588.4,91.1 L588.7,88.6 L587.8,83.6 L587.6,80.5 L585.0,81.4 L583.7,81.2 L583.3,78.7 L581.9,76.4 L580.6,75.0 L580.0,73.0 L578.1,73.7 L576.3,74.1 L574.4,74.3 L571.9,76.8 L568.6,79.9 L566.1,81.8 L566.0,84.9 L565.5,88.2 L563.5,89.8 L562.6,91.0 L561.4,90.1 L560.5,87.4 L558.9,84.3 L557.6,81.2 L556.8,77.4 L556.4,74.7 L553.3,75.0 L552.0,73.1 L550.8,71.6 L549.6,70.2 L548.9,69.5 L542.7,69.9 L537.5,69.1 L535.9,67.5 L533.4,68.0 L530.3,66.5 L529.1,65.0 L527.8,63.8 L526.0,63.9 L526.6,66.0 L528.4,68.1 L529.1,70.0 L530.3,68.8 L530.3,69.6 L530.9,71.2 L533.4,71.0 L535.3,69.4 L536.3,68.5 L536.4,70.1 L539.0,71.6 L540.6,73.1 L539.0,75.6 L537.1,77.7 L534.7,79.9 L530.9,81.4 L526.0,83.6 L522.2,85.1 L520.4,85.3 L519.7,83.6 L519.1,80.5 L516.6,77.4 L515.0,74.3 L513.5,71.2 L511.7,68.8 L509.8,66.3 L509.7,64.4 L508.6,66.3 L506.7,63.9 L506.5,62.2 L509.2,61.9 L509.8,60.1 L511.1,57.0 L511.1,55.4 L506.7,56.2 L504.2,55.4 L502.4,55.6 L500.5,55.1 L499.3,52.6 L499.3,51.0 L498.6,50.4 L495.9,50.5 L494.9,52.0 L496.1,53.9 L494.9,54.5 L494.3,55.9 L493.0,55.1 L491.8,52.6 L490.4,51.0 L490.6,49.5 L489.3,48.4 L486.8,47.1 L485.0,45.8 L483.5,44.5 L481.6,44.7 L483.1,46.9 L486.2,49.0 L487.3,50.0 L488.7,50.5 L489.3,51.3 L487.7,50.9 L487.7,52.4 L487.0,53.3 L485.8,53.9 L486.2,52.6 L485.7,51.4 L484.0,50.4 L481.6,49.3 L479.1,47.1 L478.8,46.4 L477.5,45.9 L475.7,46.7 L471.9,47.2 L470.1,47.4 L470.3,49.0 L466.6,52.0 L466.3,53.3 L463.8,55.5 Z M118.3,91.1 L118.5,88.8 L119.8,90.5 L120.8,92.3 L120.0,93.4 L118.5,93.6 Z M180.6,62.6 L181.9,62.2 L182.9,59.5 L183.7,57.6 L186.8,56.7 L188.7,55.1 L189.3,54.5 L192.4,53.5 L193.0,50.8 L193.0,49.8 L193.7,49.5 L193.0,48.3 L194.9,44.7 L196.8,46.2 L199.9,47.3 L198.0,47.7 L197.1,48.9 L194.3,49.2 L195.3,50.8 L195.5,52.6 L194.3,53.5 L194.3,55.4 L194.0,56.7 L192.8,57.6 L191.6,58.1 L189.3,58.1 L188.1,59.5 L186.8,58.5 L184.4,59.1 L183.1,60.1 L182.5,61.9 L181.2,62.6 Z M195.5,44.0 L197.4,43.3 L196.8,39.6 L198.6,40.2 L196.8,36.5 L196.8,33.7 L195.9,33.7 L195.3,36.5 L195.5,40.2 L195.3,42.7 Z M168.3,72.5 L169.1,73.7 L170.1,72.5 L170.7,70.0 L170.1,69.6 L169.1,70.5 Z M154.0,77.2 L156.4,76.2 L157.0,76.7 L155.8,78.3 L154.5,78.2 Z M169.0,78.1 L170.9,78.1 L171.3,80.5 L170.2,81.5 L170.7,83.6 L173.2,84.9 L173.4,85.5 L175.0,87.4 L174.9,88.8 L176.3,91.7 L175.7,93.2 L174.8,93.9 L173.2,93.2 L172.9,91.5 L170.7,92.3 L171.3,91.1 L172.6,90.1 L171.9,88.6 L170.7,87.6 L171.3,86.1 L170.1,84.3 L169.0,83.3 L168.8,81.2 L168.5,80.5 Z M164.7,90.6 L167.7,87.6 L167.3,87.1 L164.5,90.2 Z M137.5,94.1 L140.3,94.6 L141.6,96.0 L144.0,98.5 L147.7,101.7 L149.0,103.5 L150.8,105.3 L150.6,108.2 L149.0,108.3 L146.2,106.0 L144.6,103.9 L142.7,101.0 L141.5,98.8 L139.0,96.4 Z M149.9,109.4 L150.8,108.4 L153.7,108.7 L156.4,109.6 L158.9,109.6 L161.4,110.5 L161.2,111.7 L157.0,111.2 L153.3,110.7 L151.4,110.2 Z M162.0,111.3 L164.5,111.2 L167.0,111.3 L169.4,111.4 L171.9,111.3 L173.8,111.2 L173.8,112.4 L172.6,113.8 L170.7,113.8 L168.2,113.4 L165.7,112.2 L163.2,112.2 Z M154.5,99.1 L155.3,98.5 L157.0,99.0 L159.5,97.0 L162.6,94.6 L164.5,92.3 L165.1,93.3 L167.0,94.6 L165.7,95.7 L165.2,97.3 L166.7,99.8 L165.6,100.0 L165.1,102.0 L163.9,103.7 L163.5,106.0 L161.4,105.5 L159.5,105.0 L157.9,105.0 L156.0,104.5 L155.8,102.6 L154.5,101.0 L154.5,99.8 Z M167.6,107.8 L168.7,107.8 L168.8,104.5 L169.6,106.8 L171.7,106.6 L171.3,105.0 L169.8,103.4 L172.4,102.1 L169.4,102.6 L168.3,100.1 L170.1,99.6 L171.9,99.9 L173.8,100.4 L174.7,99.1 L173.5,100.6 L169.4,101.0 L168.2,100.6 L167.8,101.6 L167.0,104.1 L167.2,107.2 Z M177.8,98.3 L178.8,99.8 L178.1,101.0 L178.8,102.0 L177.9,101.6 L177.5,99.8 Z M181.9,102.2 L183.7,101.5 L185.6,102.1 L186.8,105.2 L190.3,102.9 L194.3,104.2 L198.6,105.7 L200.5,107.8 L202.4,108.4 L202.7,110.9 L204.2,112.8 L206.3,114.1 L203.0,113.6 L200.5,111.2 L198.0,110.5 L197.1,112.2 L194.3,112.4 L191.8,111.0 L190.6,111.3 L190.3,109.1 L186.8,106.5 L184.1,106.0 L183.1,104.5 L184.6,103.9 L181.9,102.9 Z M160.1,128.3 L160.8,128.0 L164.2,126.5 L167.0,125.8 L169.4,125.2 L171.1,122.1 L172.6,121.5 L173.8,120.0 L175.7,118.4 L177.9,119.0 L180.0,119.5 L180.6,117.5 L181.9,116.1 L183.7,116.1 L184.0,115.3 L186.8,116.1 L189.1,116.1 L188.1,117.7 L187.5,119.4 L189.9,120.8 L192.1,122.6 L194.0,122.6 L195.0,119.6 L194.9,117.1 L195.5,114.6 L196.2,114.3 L197.4,118.4 L198.6,118.7 L199.6,119.6 L200.5,122.7 L200.9,124.6 L203.9,126.4 L205.5,128.7 L206.7,130.1 L209.2,132.2 L209.8,136.3 L209.2,139.4 L208.6,141.3 L206.7,143.2 L205.5,146.9 L203.0,147.9 L200.9,149.4 L199.3,148.1 L197.4,149.1 L194.3,148.4 L192.7,147.3 L192.4,145.4 L190.6,145.1 L190.6,143.8 L189.9,144.4 L189.3,143.2 L190.3,141.7 L188.1,143.8 L187.5,144.2 L186.8,142.5 L185.6,141.5 L183.1,140.7 L181.9,140.1 L179.4,140.3 L175.7,141.1 L173.2,141.9 L172.6,143.2 L168.2,143.2 L165.7,144.4 L163.2,144.4 L162.0,143.4 L162.9,142.5 L162.9,140.7 L162.0,138.2 L161.9,137.0 L160.8,133.9 L160.1,133.2 L160.1,131.4 L160.5,130.1 Z M198.8,151.5 L203.4,151.7 L203.2,153.3 L202.1,154.6 L200.5,155.1 L199.5,153.3 Z M233.7,143.7 L235.9,145.6 L237.1,146.9 L238.0,147.7 L240.9,147.7 L240.1,149.6 L239.0,149.6 L238.8,150.6 L236.9,152.6 L236.0,152.2 L236.8,150.8 L235.3,149.6 L236.3,148.1 L235.9,146.9 L234.0,144.6 Z M233.7,151.2 L235.7,151.8 L235.5,152.8 L234.4,154.3 L233.8,155.3 L231.9,156.1 L231.3,157.8 L229.1,158.8 L226.0,158.0 L226.1,157.2 L228.2,155.6 L230.9,154.3 L232.8,152.6 Z M257.6,19.7 L259.1,16.3 L263.9,14.4 L271.6,12.6 L267.6,6.8 L379.4,6.8 L381.9,13.6 L384.3,16.7 L389.3,18.2 L386.8,20.4 L385.0,23.5 L386.2,26.2 L389.3,29.7 L391.8,32.2 L394.9,33.4 L397.1,36.3 L395.5,37.1 L391.8,38.8 L386.2,38.8 L383.7,39.6 L379.4,42.1 L381.9,40.9 L385.6,40.0 L386.5,40.5 L385.6,42.7 L390.6,44.5 L391.8,44.1 L387.5,45.8 L384.7,47.1 L384.0,45.7 L382.5,45.8 L379.4,46.8 L378.6,48.1 L379.4,49.2 L378.1,49.5 L374.4,50.7 L374.4,52.0 L373.2,52.9 L372.5,54.1 L371.9,55.1 L372.1,56.4 L372.5,57.2 L371.3,58.0 L369.4,59.0 L368.0,59.8 L365.7,61.6 L365.1,63.2 L366.2,65.7 L367.0,68.1 L366.5,69.8 L365.5,69.8 L364.7,68.1 L363.6,66.3 L363.2,64.7 L361.6,63.8 L359.5,63.3 L357.0,63.2 L355.2,63.6 L355.5,64.8 L353.9,64.9 L352.1,64.3 L349.6,64.3 L348.3,64.8 L345.8,66.3 L345.3,68.1 L345.0,71.2 L344.8,73.1 L345.5,75.0 L346.7,77.1 L348.3,77.9 L349.1,78.4 L351.4,77.9 L353.3,77.7 L353.9,76.4 L354.2,75.0 L357.0,74.3 L358.5,74.6 L357.6,76.8 L356.8,78.1 L356.6,80.5 L356.4,81.4 L359.5,81.3 L362.0,82.0 L363.0,82.4 L362.6,85.5 L362.4,87.4 L363.2,88.6 L365.1,89.8 L367.0,89.5 L368.2,89.2 L370.1,90.3 L370.3,90.8 L369.4,91.7 L368.8,90.7 L367.0,91.9 L365.7,91.3 L363.9,90.8 L362.0,89.2 L359.9,88.6 L359.9,87.1 L357.6,84.9 L355.2,84.3 L352.7,83.6 L350.8,81.7 L348.9,80.9 L346.5,81.5 L344.0,80.8 L340.9,79.3 L337.8,78.3 L335.3,76.2 L335.5,74.3 L334.7,72.5 L332.2,70.0 L330.3,68.1 L328.4,66.3 L326.6,64.4 L324.1,61.9 L323.7,63.8 L325.3,65.7 L327.2,68.8 L329.1,71.2 L329.8,72.6 L327.2,70.4 L324.7,67.5 L323.5,65.7 L321.6,61.9 L320.9,60.7 L319.1,58.8 L316.5,58.2 L314.9,55.7 L314.2,54.1 L312.5,52.0 L311.9,50.8 L312.1,47.7 L312.3,43.7 L311.4,41.0 L308.0,38.8 L307.3,37.8 L308.0,36.5 L305.1,34.7 L304.2,33.4 L302.4,31.6 L299.3,29.1 L296.8,28.7 L294.3,27.7 L291.2,26.6 L287.5,26.6 L285.0,26.0 L282.5,26.6 L279.4,27.2 L277.5,26.0 L275.7,27.5 L274.4,28.8 L271.9,30.3 L269.4,31.6 L266.3,32.4 L263.9,33.2 L265.1,32.2 L268.8,30.4 L270.7,28.5 L267.6,28.2 L265.1,26.7 L262.0,25.6 L261.0,24.1 L262.0,22.6 L266.3,21.4 L263.9,20.9 L259.5,20.8 Z M399.3,13.6 L402.4,15.8 L399.9,18.5 L401.7,21.6 L404.2,24.1 L406.1,25.4 L409.8,26.6 L411.7,26.6 L412.9,26.0 L414.2,24.1 L416.0,21.0 L419.1,19.7 L422.9,19.2 L426.0,16.7 L432.8,16.1 L437.8,14.2 L439.0,13.0 L441.5,6.8 L391.8,6.8 Z M436.5,19.8 L439.0,18.7 L444.0,18.9 L447.7,18.9 L449.6,20.2 L448.3,21.1 L444.0,22.4 L440.2,21.9 L438.4,21.4 L439.0,20.6 Z M459.3,39.0 L462.6,38.3 L466.3,38.0 L468.1,37.4 L467.0,36.8 L468.4,35.7 L466.7,35.3 L466.1,34.0 L464.7,33.3 L464.3,32.1 L463.2,31.6 L463.8,30.1 L464.1,29.6 L462.0,29.5 L462.6,28.3 L460.1,28.3 L459.1,29.7 L459.5,30.9 L459.1,32.4 L460.4,33.0 L462.0,32.9 L462.6,34.2 L462.6,34.9 L460.7,34.9 L461.1,35.5 L461.2,36.3 L459.8,36.8 L461.1,37.0 L462.6,37.3 L461.1,37.5 Z M458.9,36.3 L458.8,34.9 L458.9,33.4 L457.3,32.4 L455.8,32.8 L455.5,33.7 L453.9,33.8 L454.2,34.7 L453.9,35.9 L453.4,36.6 L454.5,37.1 L456.4,36.8 Z M392.5,42.0 L396.8,37.0 L397.4,37.4 L397.4,39.6 L399.9,39.9 L399.9,41.2 L401.0,42.1 L400.2,43.1 L399.3,42.5 L397.4,42.8 L396.8,42.0 Z M360.7,73.8 L361.5,73.2 L363.2,72.5 L365.7,72.2 L368.2,73.1 L370.4,74.2 L372.4,75.0 L374.2,76.0 L373.2,76.3 L369.8,76.4 L370.3,75.3 L368.8,74.3 L366.3,74.0 L364.5,73.3 L362.6,73.5 Z M373.8,78.2 L375.9,78.6 L378.1,78.9 L381.2,78.3 L381.5,77.7 L380.0,77.2 L378.8,76.4 L376.3,76.3 L375.2,76.7 L375.9,77.4 L373.9,77.9 Z M369.1,78.4 L371.7,78.8 L371.6,78.2 L369.4,78.1 Z M382.9,78.7 L384.8,78.7 L384.8,78.1 L382.9,78.1 Z M370.3,90.8 L371.3,90.0 L372.5,88.0 L373.8,87.4 L376.3,86.4 L377.5,85.6 L377.3,87.4 L378.1,87.4 L380.0,86.7 L381.9,88.0 L384.3,87.9 L386.8,87.9 L388.7,87.7 L389.9,88.6 L391.2,90.5 L393.0,91.1 L395.3,93.6 L398.0,93.6 L401.1,94.8 L402.4,96.0 L403.6,98.8 L404.2,101.0 L406.1,102.0 L409.2,102.2 L411.1,104.1 L414.2,104.5 L417.3,104.7 L420.1,107.0 L422.6,107.8 L423.1,110.3 L422.5,112.8 L420.4,114.6 L418.5,117.1 L417.9,120.2 L417.5,123.1 L416.0,126.4 L415.4,128.3 L414.2,129.5 L411.1,129.8 L408.6,130.8 L406.1,132.6 L406.1,135.7 L404.8,137.0 L403.0,139.4 L401.1,141.9 L399.9,143.5 L398.1,144.3 L396.1,144.2 L393.7,143.5 L395.3,145.4 L395.9,146.3 L394.9,148.1 L393.0,149.1 L389.3,149.4 L389.1,151.5 L385.6,151.8 L386.8,153.5 L385.6,156.8 L382.5,158.4 L384.3,159.9 L382.1,162.4 L380.6,163.7 L381.5,165.9 L381.2,166.7 L383.7,168.6 L385.3,169.0 L383.1,169.4 L381.2,169.8 L378.8,169.2 L376.9,168.0 L374.4,166.1 L372.8,163.0 L372.5,160.5 L374.4,159.0 L373.8,155.6 L375.0,153.1 L375.0,150.0 L375.3,147.5 L376.3,145.0 L377.4,141.9 L377.5,138.2 L377.8,135.1 L378.8,129.5 L379.1,124.6 L377.5,122.5 L373.2,120.0 L371.6,117.7 L370.1,115.3 L368.2,111.5 L366.3,109.1 L365.3,106.6 L366.6,105.2 L365.8,103.5 L367.0,101.6 L366.8,100.0 L368.2,99.1 L368.8,97.9 L370.1,96.2 L370.3,92.9 L369.6,92.1 Z M390.2,164.5 L394.3,164.6 L393.7,165.5 L391.2,165.7 Z M395.5,179.5 L393.7,179.7 L391.8,180.4 L389.3,181.4 L387.5,182.2 L386.8,187.8 L404.2,187.8 L398.0,179.7 Z M203.4,107.8 L205.5,107.4 L207.3,106.3 L208.3,106.2 L208.0,107.8 L206.1,108.8 L203.6,108.4 Z M222.9,126.0 L224.1,126.8 L226.6,128.7 L226.0,128.8 L223.2,126.8 Z M104.5,161.3 L106.5,161.6 L106.7,162.5 L105.5,162.8 L104.6,162.3 Z M206.5,104.2 L208.2,105.1 L209.4,106.7 L209.0,107.0 L207.5,105.5 L206.2,104.6 Z M211.2,107.4 L212.3,108.2 L212.9,109.4 L212.2,109.4 L211.4,108.4 Z M214.2,110.7 L217.3,111.3 L219.1,112.4 L219.8,113.6 L218.5,113.4 L216.7,112.8 L214.8,111.9 Z M226.1,119.1 L227.0,119.6 L228.1,121.5 L228.5,123.1 L227.8,123.1 L226.8,121.1 L226.0,120.2 Z M239.4,122.6 L240.9,122.5 L241.0,123.6 L239.5,123.6 Z M241.2,121.2 L242.7,121.1 L243.0,121.8 L241.5,122.0 Z M272.7,76.0 L273.8,76.4 L274.0,76.8 L273.0,77.6 L272.6,76.9 Z" fill="#808080" stroke="#111" stroke-width="0.7" stroke-linejoin="round"/>
<path d="M53.9,49.9 L54.5,47.1 L56.2,44.8 L57.7,43.2 L60.1,44.0 L60.8,45.8 L62.6,45.2 L64.5,44.8 L66.3,42.7 L67.6,42.5 L66.3,44.0 L65.7,45.6 L68.2,47.1 L70.7,49.4 L68.8,50.2 L63.9,49.3 L60.1,48.9 L56.4,49.9 Z M77.5,45.8 L77.2,48.3 L79.4,49.2 L80.6,51.2 L80.0,53.3 L80.0,54.5 L82.5,55.5 L86.0,55.1 L86.2,53.3 L85.0,51.4 L86.8,50.2 L85.0,48.3 L82.5,45.8 L83.1,44.0 L81.3,43.0 L78.8,43.3 Z M348.7,26.4 L352.3,23.3 L357.4,20.6 L360.7,19.8 L364.5,18.5 L365.7,16.7 L367.6,17.9 L366.3,20.4 L369.4,21.4 L369.6,22.3 L370.7,25.4 L370.7,27.3 L368.6,30.4 L367.6,32.4 L366.6,36.5 L365.0,33.5 L362.5,31.4 L355.3,29.5 L350.2,27.8 Z" fill="#c0c0c0" stroke="#111" stroke-width="0.7" stroke-linejoin="round"/>
<line x1="50.00" y1="26.60" x2="496.50" y2="26.60" stroke="#222" stroke-width="0.8" />
<line x1="50.00" y1="51.40" x2="496.50" y2="51.40" stroke="#222" stroke-width="0.8" />
<line x1="50.00" y1="76.20" x2="496.50" y2="76.20" stroke="#222" stroke-width="0.8" />
<line x1="50.00" y1="101.00" x2="496.50" y2="101.00" stroke="#222" stroke-width="0.8" />
<line x1="50.00" y1="125.80" x2="496.50" y2="125.80" stroke="#222" stroke-width="0.8" />
<line x1="50.00" y1="150.60" x2="496.50" y2="150.60" stroke="#222" stroke-width="0.8" />
<line x1="50.00" y1="175.40" x2="496.50" y2="175.40" stroke="#222" stroke-width="0.8" />
<line x1="93.67" y1="14.60" x2="93.67" y2="181.30" stroke="#222" stroke-width="0.8" />
<line x1="168.21" y1="14.60" x2="168.21" y2="181.30" stroke="#222" stroke-width="0.8" />
<line x1="242.74" y1="14.60" x2="242.74" y2="181.30" stroke="#222" stroke-width="0.8" />
<line x1="317.27" y1="14.60" x2="317.27" y2="181.30" stroke="#222" stroke-width="0.8" />
<line x1="391.80" y1="14.60" x2="391.80" y2="181.30" stroke="#222" stroke-width="0.8" />
<line x1="466.33" y1="14.60" x2="466.33" y2="181.30" stroke="#222" stroke-width="0.8" />
<rect x="198.9" y="51.45" width="18.5" height="10.0" fill="none" stroke="#9acd32" stroke-width="3" stroke-linejoin="round"/>
<path d="M286.0,35.0 L287.3,37.6 L290.2,38.0 L288.1,40.1 L288.6,43.0 L286.0,41.6 L283.4,43.0 L283.9,40.1 L281.8,38.0 L284.7,37.6 Z" fill="#9acd32" stroke="none" stroke-width="1" />
<path d="M269.6,69.8 L270.9,72.4 L273.8,72.8 L271.7,74.9 L272.2,77.8 L269.6,76.4 L267.0,77.8 L267.5,74.9 L265.4,72.8 L268.3,72.4 Z" fill="#9acd32" stroke="none" stroke-width="1" />
</g>
<rect x="50.0" y="14.6" width="446.5" height="166.70000000000002" fill="none" stroke="#000" stroke-width="1"/>
<text x="60.30" y="7.30" font-size="9.32" font-weight="bold" fill="#000" textLength="6.11" lengthAdjust="spacingAndGlyphs" >a</text>
<path d="M49.0,193.0 L69.9,185.5 L477.1,185.5 L498.0,193.0 L477.1,200.5 L69.9,200.5 Z" fill="url(#cbg)" stroke="#000" stroke-width="0.8" />
<line x1="69.90" y1="200.50" x2="69.90" y2="205.70" stroke="#222" stroke-width="0.9" />
<text x="56.03" y="218.80" font-size="9.32" font-weight="normal" fill="#000" textLength="27.73" lengthAdjust="spacingAndGlyphs" >−10.0</text>
<line x1="120.80" y1="200.50" x2="120.80" y2="205.70" stroke="#222" stroke-width="0.9" />
<text x="109.81" y="218.80" font-size="9.32" font-weight="normal" fill="#000" textLength="21.98" lengthAdjust="spacingAndGlyphs" >−7.5</text>
<line x1="171.70" y1="200.50" x2="171.70" y2="205.70" stroke="#222" stroke-width="0.9" />
<text x="160.71" y="218.80" font-size="9.32" font-weight="normal" fill="#000" textLength="21.98" lengthAdjust="spacingAndGlyphs" >−5.0</text>
<line x1="222.60" y1="200.50" x2="222.60" y2="205.70" stroke="#222" stroke-width="0.9" />
<text x="211.61" y="218.80" font-size="9.32" font-weight="normal" fill="#000" textLength="21.98" lengthAdjust="spacingAndGlyphs" >−2.5</text>
<line x1="273.50" y1="200.50" x2="273.50" y2="205.70" stroke="#222" stroke-width="0.9" />
<text x="266.30" y="218.80" font-size="9.32" font-weight="normal" fill="#000" textLength="14.39" lengthAdjust="spacingAndGlyphs" >0.0</text>
<line x1="324.40" y1="200.50" x2="324.40" y2="205.70" stroke="#222" stroke-width="0.9" />
<text x="317.20" y="218.80" font-size="9.32" font-weight="normal" fill="#000" textLength="14.39" lengthAdjust="spacingAndGlyphs" >2.5</text>
<line x1="375.30" y1="200.50" x2="375.30" y2="205.70" stroke="#222" stroke-width="0.9" />
<text x="368.10" y="218.80" font-size="9.32" font-weight="normal" fill="#000" textLength="14.39" lengthAdjust="spacingAndGlyphs" >5.0</text>
<line x1="426.20" y1="200.50" x2="426.20" y2="205.70" stroke="#222" stroke-width="0.9" />
<text x="419.00" y="218.80" font-size="9.32" font-weight="normal" fill="#000" textLength="14.39" lengthAdjust="spacingAndGlyphs" >7.5</text>
<line x1="477.10" y1="200.50" x2="477.10" y2="205.70" stroke="#222" stroke-width="0.9" />
<text x="467.02" y="218.80" font-size="9.32" font-weight="normal" fill="#000" textLength="20.15" lengthAdjust="spacingAndGlyphs" >10.0</text>
<text x="211.65" y="234.80" font-size="9.32" textLength="122.70" lengthAdjust="spacingAndGlyphs">ANCP<tspan font-size="6.53" font-style="italic" dy="1.6">H</tspan><tspan dy="-1.6"> (mol C m</tspan><tspan font-size="6.53" dy="-3.6">−2</tspan><tspan dy="3.6"> year</tspan><tspan font-size="6.53" dy="-3.6">−1</tspan><tspan dy="3.6">)</tspan></text>
<rect x="500.4" y="14.4" width="142.20000000000005" height="166.9" fill="#fff"/>
<line x1="514.62" y1="14.40" x2="514.62" y2="181.30" stroke="#333" stroke-width="0.8" />
<line x1="571.50" y1="14.40" x2="571.50" y2="181.30" stroke="#333" stroke-width="0.8" />
<line x1="628.38" y1="14.40" x2="628.38" y2="181.30" stroke="#333" stroke-width="0.8" />
<line x1="500.40" y1="26.50" x2="642.60" y2="26.50" stroke="#bbb" stroke-width="0.8" />
<line x1="500.40" y1="51.32" x2="642.60" y2="51.32" stroke="#333" stroke-width="0.8" />
<line x1="500.40" y1="76.13" x2="642.60" y2="76.13" stroke="#333" stroke-width="0.8" />
<line x1="500.40" y1="100.95" x2="642.60" y2="100.95" stroke="#000" stroke-width="1.0" />
<line x1="500.40" y1="125.77" x2="642.60" y2="125.77" stroke="#bbb" stroke-width="0.8" />
<line x1="500.40" y1="150.58" x2="642.60" y2="150.58" stroke="#333" stroke-width="0.8" />
<line x1="500.40" y1="175.40" x2="642.60" y2="175.40" stroke="#333" stroke-width="0.8" />
<g clip-path="url(#bclip)"><path d="M554.9,14.7 C553.9,16.0 549.8,17.0 551.5,18.9 C553.2,20.8 554.9,19.9 560.5,20.9 C566.1,21.9 563.5,20.8 570.2,22.3 C576.9,23.8 579.8,23.9 582.7,25.8 C585.6,27.7 582.0,26.7 579.9,28.6 C577.8,30.5 578.6,30.1 575.7,32.0 C572.8,33.9 574.8,33.1 570.2,34.8 C565.6,36.5 566.3,35.9 560.5,37.6 C554.7,39.3 555.2,38.8 550.8,40.4 C546.4,42.0 546.7,41.5 545.9,43.1 C545.1,44.8 545.3,44.2 548.0,45.9 C550.7,47.6 551.1,47.1 554.9,48.7 C558.6,50.4 558.6,49.3 560.5,51.4 C562.4,53.5 561.8,53.1 561.2,55.6 C560.6,58.1 559.7,57.3 558.4,59.8 C557.1,62.3 557.6,61.1 557.0,63.9 C556.4,66.7 558.2,66.0 556.3,69.2 C554.4,72.4 552.7,71.4 550.8,74.7 C548.9,78.0 551.1,76.3 550.1,80.3 C549.1,84.3 546.7,84.6 547.3,87.9 C547.9,91.2 548.2,89.3 552.2,91.4 C556.2,93.5 556.4,93.4 560.5,94.8 C564.6,96.2 562.5,95.1 566.0,96.2 C569.5,97.3 569.3,96.9 572.0,98.5 C574.7,100.1 574.7,99.7 575.0,101.5 C575.3,103.3 576.5,102.8 573.0,104.5 C569.5,106.2 565.4,105.0 563.3,107.3 C561.2,109.6 563.5,109.5 566.0,112.2 C568.5,114.9 568.7,114.0 571.6,116.3 C574.5,118.6 573.9,117.5 575.7,119.8 C577.5,122.1 576.2,121.0 577.5,124.0 C578.8,127.0 579.6,126.7 579.9,129.7 C580.2,132.7 580.2,131.4 578.5,133.9 C576.8,136.4 575.9,135.1 574.3,138.0 C572.6,140.9 575.5,140.9 573.0,143.6 C570.5,146.3 571.4,144.9 566.0,147.0 C560.6,149.1 559.7,148.4 554.9,150.5 C550.1,152.6 550.5,151.5 550.1,154.0 C549.7,156.5 550.4,156.1 553.5,158.8 C556.6,161.5 556.8,160.9 560.5,163.0 C564.2,165.1 562.2,164.3 566.0,165.8 C569.8,167.3 569.2,166.5 573.0,167.9 C576.8,169.3 574.8,168.5 578.5,170.6 C582.2,172.7 580.8,172.1 585.4,174.8 C590.0,177.5 590.5,177.4 593.8,179.6 C597.1,181.8 595.7,181.3 596.5,182.0" fill="none" stroke="#1f77b4" stroke-width="2.2" stroke-linejoin="round" stroke-linecap="round"/>
<path d="M568.8,14.7 C569.1,16.1 569.5,16.8 569.9,19.5 C570.3,22.2 571.4,21.2 570.2,23.7 C569.0,26.2 569.8,25.4 566.0,27.9 C562.2,30.4 561.5,29.7 557.7,32.0 C554.0,34.3 554.5,33.2 553.5,35.5 C552.5,37.8 552.9,37.4 554.2,39.7 C555.5,42.0 555.0,41.0 557.7,43.1 C560.4,45.2 560.8,44.7 563.3,46.6 C565.8,48.5 564.6,47.5 566.0,49.4 C567.4,51.3 567.1,49.6 568.1,52.8 C569.1,56.0 568.9,54.8 569.5,60.0 C570.1,65.2 570.0,64.8 570.0,70.0 C570.0,75.2 570.7,73.2 569.5,77.5 C568.3,81.8 568.7,79.4 566.0,84.4 C563.3,89.4 561.3,89.1 560.5,94.1 C559.7,99.1 563.3,97.1 563.3,101.1 C563.3,105.1 560.9,103.6 560.5,107.3 C560.1,111.0 560.0,110.0 561.9,113.5 C563.8,117.0 564.8,114.7 566.7,119.1 C568.6,123.5 567.3,121.4 568.1,128.3 C568.9,135.2 569.3,134.3 569.5,142.2 C569.7,150.1 569.6,148.9 568.8,154.7 C568.0,160.5 568.4,158.3 566.7,161.6 C565.1,164.9 566.0,162.9 563.3,165.8 C560.6,168.7 560.2,168.0 557.7,171.3 C555.2,174.6 555.7,173.7 554.9,176.9 C554.1,180.1 554.9,180.5 554.9,182.0" fill="none" stroke="#ff7f0e" stroke-width="2.2" stroke-linejoin="round" stroke-linecap="round"/>
<path d="M561.9,15.1 C558.6,15.8 562.0,15.3 550.8,17.5 C539.5,19.7 534.8,19.6 524.4,22.3 C514.0,25.0 519.0,24.6 516.1,26.5 C513.2,28.4 513.9,27.4 514.7,28.6 C515.5,29.8 514.7,29.4 518.9,30.6 C523.1,31.8 521.9,30.8 528.6,32.7 C535.3,34.6 533.6,34.8 541.1,36.9 C548.6,39.0 546.5,38.3 553.5,39.7 C560.5,41.1 559.6,40.7 564.6,41.7 C569.6,42.7 568.9,41.8 570.2,43.1 C571.5,44.4 571.7,44.2 568.8,45.9 C565.9,47.6 565.1,47.2 560.5,48.7 C555.9,50.2 556.0,49.8 553.5,50.8 C551.0,51.8 551.8,50.9 552.2,52.1 C552.6,53.3 552.4,53.0 554.9,54.9 C557.4,56.8 556.8,56.5 560.5,58.4 C564.2,60.3 563.3,59.8 567.4,61.2 C571.5,62.6 571.2,61.8 574.3,63.2 C577.4,64.6 576.5,64.1 577.8,66.0 C579.1,67.9 578.5,66.5 578.5,69.5 C578.5,72.5 578.8,72.5 577.8,76.1 C576.8,79.7 577.7,78.7 575.0,81.6 C572.3,84.5 570.7,83.5 568.8,85.8 C566.9,88.1 566.7,87.2 568.8,89.3 C570.9,91.4 574.1,91.0 575.7,92.7 C577.4,94.4 577.2,93.8 574.3,94.8 C571.4,95.8 574.3,95.2 566.0,96.2 C557.7,97.2 557.8,96.6 546.6,98.3 C535.4,100.0 531.5,99.9 528.6,101.8 C525.7,103.7 530.7,102.8 536.9,104.5 C543.1,106.2 544.4,105.4 549.4,107.3 C554.4,109.2 550.2,108.5 553.5,110.8 C556.8,113.1 555.9,112.6 560.5,114.9 C565.1,117.2 564.2,116.5 568.8,118.4 C573.4,120.3 573.0,119.1 575.7,121.2 C578.4,123.3 577.8,122.1 577.8,125.5 C577.8,128.9 577.1,128.3 575.7,132.5 C574.3,136.7 574.6,134.8 573.0,139.4 C571.4,144.0 569.0,143.5 570.2,147.7 C571.4,151.9 574.0,150.2 577.1,153.3 C580.2,156.4 580.6,155.2 580.6,158.1 C580.6,161.0 581.1,160.7 577.1,163.0 C573.1,165.3 574.5,164.3 567.4,165.8 C560.3,167.3 561.8,166.7 553.5,167.9 C545.2,169.1 546.8,168.2 539.7,169.9 C532.7,171.6 536.7,170.9 530.0,173.4 C523.3,175.9 521.7,176.4 517.5,178.3 C513.3,180.2 514.5,178.8 516.1,179.6 C517.8,180.4 520.9,180.6 523.0,181.0" fill="none" stroke="#2ca02c" stroke-width="2.2" stroke-linejoin="round" stroke-linecap="round"/>
<path d="M564.6,26.5 C565.9,27.3 566.1,26.2 568.8,29.3 C571.5,32.4 572.9,33.4 573.7,36.9 C574.5,40.4 571.0,38.1 571.6,41.0 C572.2,43.9 576.1,43.9 575.7,46.6 C575.3,49.3 572.5,47.8 570.2,50.1 C567.9,52.4 568.5,51.7 568.1,54.2 C567.7,56.7 568.8,55.9 568.8,58.4 C568.8,60.9 567.9,59.2 568.1,62.5 C568.3,65.8 568.9,66.7 569.5,69.5 C570.1,72.3 571.2,69.1 570.2,71.9 C569.2,74.7 566.8,75.8 566.0,78.9 C565.2,82.0 564.9,80.4 567.4,82.3 C569.9,84.2 571.0,83.4 574.3,85.1 C577.6,86.8 578.9,86.0 578.5,87.9 C578.1,89.8 576.8,89.5 573.0,91.4 C569.2,93.3 567.7,92.4 566.0,94.1 C564.3,95.8 564.5,94.8 567.4,96.9 C570.3,99.0 574.0,98.6 575.7,101.1 C577.4,103.6 575.5,101.9 573.0,105.2 C570.5,108.5 569.5,108.0 567.4,112.2 C565.3,116.4 565.8,115.5 566.0,119.1 C566.2,122.7 567.1,119.8 568.1,124.2 C569.1,128.6 568.5,128.1 569.5,133.9 C570.5,139.7 568.9,139.5 571.6,143.6 C574.3,147.7 578.1,145.6 578.5,147.7 C578.9,149.8 576.3,148.6 573.0,150.5 C569.7,152.4 569.1,151.9 567.4,154.0 C565.7,156.1 568.6,155.3 567.4,157.4 C566.2,159.5 567.0,158.6 563.3,160.9 C559.5,163.2 557.8,162.4 554.9,165.1 C552.0,167.8 554.7,167.6 553.5,169.9 C552.3,172.2 554.1,170.8 550.8,172.7 C547.5,174.6 544.9,175.1 542.4,176.2" fill="none" stroke="#d62728" stroke-width="2.2" stroke-linejoin="round" stroke-linecap="round"/>
<path d="M566.0,14.7 C564.4,15.8 563.0,16.3 560.5,18.2 C558.0,20.1 556.9,19.2 557.7,20.9 C558.5,22.5 559.5,22.0 563.3,23.7 C567.0,25.4 567.3,24.6 570.2,26.5 C573.1,28.4 573.0,27.5 573.0,30.0 C573.0,32.5 571.5,31.3 570.2,34.8 C568.9,38.3 570.1,38.0 568.8,41.7 C567.5,45.5 566.8,44.2 566.0,47.3 C565.2,50.4 565.2,49.2 566.0,52.1 C566.8,55.0 567.5,54.3 568.8,57.0 C570.1,59.7 569.4,58.5 570.2,61.2 C571.0,63.9 570.5,62.4 571.5,66.0 C572.5,69.6 573.2,68.6 573.7,73.3 C574.2,78.0 573.4,75.8 573.0,81.6 C572.6,87.4 572.7,86.9 572.3,92.7 C571.9,98.5 571.0,96.1 571.6,101.1 C572.2,106.1 572.9,104.8 574.3,109.4 C575.7,114.0 576.2,112.1 576.4,116.3 C576.6,120.5 576.0,120.1 575.0,123.3 C574.0,126.5 574.4,122.5 573.0,126.9 C571.6,131.3 571.7,131.8 570.2,138.0 C568.7,144.2 569.6,143.1 568.1,147.7 C566.6,152.3 565.7,149.6 565.3,153.3 C564.9,157.1 565.2,155.2 566.7,160.2 C568.2,165.2 568.3,164.5 570.2,169.9 C572.1,175.3 571.8,174.7 573.0,178.3 C574.2,181.9 573.9,180.9 574.3,182.0" fill="none" stroke="#7f7f7f" stroke-width="2.2" stroke-linejoin="round" stroke-linecap="round"/>
<line x1="571.6" y1="14" x2="571.6" y2="182" stroke="#000" stroke-width="1"/>
<rect x="590.4" y="34.4" width="50.1" height="60.8" rx="2" ry="2" fill="#fff" fill-opacity="0.8" stroke="#ccc" stroke-width="0.8"/>
<line x1="591.6" y1="40.8" x2="610.1" y2="40.8" stroke="#1f77b4" stroke-width="2.3"/>
<text x="614.6" y="43.8" font-size="8.5" font-style="italic">F<tspan font-size="6.0" dy="1.8">A-S</tspan></text>
<line x1="591.6" y1="52.6" x2="610.1" y2="52.6" stroke="#ff7f0e" stroke-width="2.3"/>
<text x="614.6" y="55.6" font-size="8.5" font-style="italic">F<tspan font-size="6.0" dy="1.8">vDIFF</tspan></text>
<line x1="591.6" y1="64.2" x2="610.1" y2="64.2" stroke="#2ca02c" stroke-width="2.3"/>
<text x="614.6" y="67.2" font-size="8.5" font-style="italic">F<tspan font-size="6.0" dy="1.8">ADV</tspan></text>
<line x1="591.6" y1="75.7" x2="610.1" y2="75.7" stroke="#d62728" stroke-width="2.3"/>
<text x="614.6" y="78.7" font-size="8.5" font-style="italic">F<tspan font-size="6.0" dy="1.8">hDIFF</tspan></text>
<line x1="591.6" y1="87.2" x2="610.1" y2="87.2" stroke="#7f7f7f" stroke-width="2.3"/>
<text x="614.6" y="90.2" font-size="8.5" font-style="italic">F<tspan font-size="6.0" dy="1.8">ADV*</tspan></text></g>
<rect x="500.4" y="14.4" width="142.20000000000005" height="166.9" fill="none" stroke="#000" stroke-width="1"/>
<line x1="514.62" y1="181.30" x2="514.62" y2="186.10" stroke="#222" stroke-width="0.9" />
<text x="507.95" y="200.00" font-size="9.32" font-weight="normal" fill="#000" textLength="13.34" lengthAdjust="spacingAndGlyphs" >−4</text>
<line x1="571.50" y1="181.30" x2="571.50" y2="186.10" stroke="#222" stroke-width="0.9" />
<text x="568.62" y="200.00" font-size="9.32" font-weight="normal" fill="#000" textLength="5.76" lengthAdjust="spacingAndGlyphs" >0</text>
<line x1="628.38" y1="181.30" x2="628.38" y2="186.10" stroke="#222" stroke-width="0.9" />
<text x="625.50" y="200.00" font-size="9.32" font-weight="normal" fill="#000" textLength="5.76" lengthAdjust="spacingAndGlyphs" >4</text>
<line x1="637.10" y1="26.50" x2="642.60" y2="26.50" stroke="#222" stroke-width="0.9" />
<text x="648.40" y="30.50" font-size="9.32" font-weight="normal" fill="#000" textLength="22.81" lengthAdjust="spacingAndGlyphs" >60°N</text>
<line x1="637.10" y1="51.32" x2="642.60" y2="51.32" stroke="#222" stroke-width="0.9" />
<text x="648.40" y="55.32" font-size="9.32" font-weight="normal" fill="#000" textLength="22.81" lengthAdjust="spacingAndGlyphs" >40°N</text>
<line x1="637.10" y1="76.13" x2="642.60" y2="76.13" stroke="#222" stroke-width="0.9" />
<text x="648.40" y="80.13" font-size="9.32" font-weight="normal" fill="#000" textLength="22.81" lengthAdjust="spacingAndGlyphs" >20°N</text>
<line x1="637.10" y1="100.95" x2="642.60" y2="100.95" stroke="#222" stroke-width="0.9" />
<text x="648.40" y="104.95" font-size="9.32" font-weight="normal" fill="#000" textLength="10.28" lengthAdjust="spacingAndGlyphs" >0°</text>
<line x1="637.10" y1="125.77" x2="642.60" y2="125.77" stroke="#222" stroke-width="0.9" />
<text x="648.40" y="129.77" font-size="9.32" font-weight="normal" fill="#000" textLength="21.79" lengthAdjust="spacingAndGlyphs" >20°S</text>
<line x1="637.10" y1="150.58" x2="642.60" y2="150.58" stroke="#222" stroke-width="0.9" />
<text x="648.40" y="154.58" font-size="9.32" font-weight="normal" fill="#000" textLength="21.79" lengthAdjust="spacingAndGlyphs" >40°S</text>
<line x1="637.10" y1="175.40" x2="642.60" y2="175.40" stroke="#222" stroke-width="0.9" />
<text x="648.40" y="179.40" font-size="9.32" font-weight="normal" fill="#000" textLength="21.79" lengthAdjust="spacingAndGlyphs" >60°S</text>
<text x="666.18" y="97.60" font-size="9.32" font-weight="normal" fill="#000" textLength="37.25" lengthAdjust="spacingAndGlyphs" transform="rotate(-90 684.8 97.6)">Latitude</text>
<text x="526.55" y="215.20" font-size="9.32" textLength="89.90" lengthAdjust="spacingAndGlyphs">(mol C m<tspan font-size="6.53" dy="-3.6">−2</tspan><tspan dy="3.6"> year</tspan><tspan font-size="6.53" dy="-3.6">−1</tspan><tspan dy="3.6">)</tspan></text>
<text x="502.00" y="7.30" font-size="9.32" font-weight="bold" fill="#000" textLength="6.48" lengthAdjust="spacingAndGlyphs" >b</text>
<rect x="49.55" y="258.6" width="138.9" height="175.79999999999995" fill="#fff"/>
<g clip-path="url(#pclip0)"><path d="M164.0,314.9 L167.0,316.4 L188.5,319.3 L188.5,328.3 L154.0,328.8 L154.0,341.2 L188.5,342.2 L188.5,358.0 L173.0,359.5 L155.0,362.5 L116.4,365.5 L112.0,370.0 L110.0,380.0 L112.0,392.0 L188.5,393.0 L188.5,411.6 L167.0,412.0 L167.0,416.0 L188.5,416.5 L188.5,434.2 L94.0,434.2 L88.0,431.0 L60.0,428.0 L50.0,416.0 L49.6,401.0 L51.0,392.0 L54.0,386.0 L56.0,374.0 L62.0,366.0 L83.7,360.0 L94.0,358.0 L94.0,344.6 L77.8,341.7 L65.9,338.7 L56.9,337.2 L56.9,332.7 L74.8,329.8 L68.8,328.3 L67.3,319.3 L107.5,316.4 L150.0,314.9 Z" fill="#d3e4f0"/></g>
<line x1="62.18" y1="258.60" x2="62.18" y2="434.40" stroke="#444" stroke-width="0.8" />
<line x1="100.06" y1="258.60" x2="100.06" y2="434.40" stroke="#222" stroke-width="1.0" />
<line x1="137.94" y1="258.60" x2="137.94" y2="434.40" stroke="#444" stroke-width="0.8" />
<line x1="175.82" y1="258.60" x2="175.82" y2="434.40" stroke="#444" stroke-width="0.8" />
<line x1="49.55" y1="261.60" x2="188.45" y2="261.60" stroke="#444" stroke-width="0.8" />
<line x1="49.55" y1="289.95" x2="188.45" y2="289.95" stroke="#444" stroke-width="0.8" />
<line x1="49.55" y1="318.30" x2="188.45" y2="318.30" stroke="#444" stroke-width="0.8" />
<line x1="49.55" y1="346.65" x2="188.45" y2="346.65" stroke="#222" stroke-width="1.0" />
<line x1="49.55" y1="375.00" x2="188.45" y2="375.00" stroke="#444" stroke-width="0.8" />
<line x1="49.55" y1="403.35" x2="188.45" y2="403.35" stroke="#444" stroke-width="0.8" />
<line x1="49.55" y1="431.70" x2="188.45" y2="431.70" stroke="#444" stroke-width="0.8" />
<g clip-path="url(#pclip0)"><path d="M90.0,311.5 C89.2,312.4 88.0,312.6 87.5,314.5 C87.0,316.4 87.8,314.6 88.2,318.0 C88.7,321.4 87.7,320.4 89.0,326.0 C90.3,331.6 90.7,330.2 92.5,336.5 C94.3,342.8 93.7,341.3 95.0,347.0 C96.3,352.7 95.7,350.8 97.0,355.5 C98.3,360.2 97.0,358.9 99.5,362.8 C102.0,366.7 102.3,365.3 105.5,368.5 C108.7,371.7 108.0,370.6 110.0,373.5 C112.0,376.4 111.3,374.2 112.1,378.0 C112.8,381.8 111.3,381.8 112.5,386.0 C113.7,390.2 113.0,388.3 116.0,392.0 C119.0,395.7 118.2,395.1 122.4,398.2 C126.6,401.3 126.5,400.3 130.0,402.5 C133.5,404.7 134.6,403.8 134.0,405.6 C133.4,407.4 131.5,407.0 128.0,408.5 C124.5,410.0 128.6,408.2 122.4,410.5 C116.2,412.8 115.1,412.6 107.5,416.0 C99.9,419.4 101.0,418.4 97.0,422.0 C93.0,425.6 93.6,424.0 94.1,428.0 C94.6,432.0 97.2,433.2 98.6,435.4" fill="none" stroke="#777" stroke-width="2.2" stroke-dasharray="7.4,3.2"/>
<path d="M148.9,313.8 C145.8,314.6 145.3,315.0 138.4,316.6 C131.5,318.2 128.9,317.7 125.8,319.3 C122.6,320.9 124.1,320.1 127.9,321.8 C131.7,323.5 135.9,323.1 138.4,325.0 C140.9,326.9 140.7,326.2 136.3,328.1 C131.9,330.0 131.3,329.1 123.7,331.3 C116.1,333.5 116.5,333.3 111.1,335.5 C105.7,337.7 105.8,336.7 105.8,338.6 C105.8,340.5 104.5,339.9 111.1,341.8 C117.7,343.7 119.1,343.0 127.9,344.9 C136.7,346.8 135.8,345.9 140.5,348.1 C145.2,350.3 143.6,349.4 143.6,352.3 C143.6,355.2 143.9,354.8 140.5,357.6 C137.1,360.5 139.0,359.6 132.1,361.8 C125.2,364.0 126.2,363.0 117.4,364.9 C108.6,366.8 110.3,366.3 102.7,368.1 C95.1,369.9 97.5,368.9 92.1,370.8 C86.7,372.7 88.6,371.8 84.8,374.5 C81.0,377.2 79.5,376.6 79.5,379.7 C79.5,382.8 79.1,381.9 84.8,385.0 C90.5,388.1 90.6,386.4 98.5,390.2 C106.4,394.0 102.3,393.8 111.1,397.6 C119.9,401.4 119.1,400.3 127.9,402.8 C136.7,405.3 136.4,404.4 140.5,406.0 C144.6,407.6 144.0,406.5 141.5,408.1 C139.0,409.7 137.8,409.3 132.1,411.2 C126.4,413.1 124.5,412.2 122.6,414.4 C120.7,416.6 119.8,416.1 125.8,418.6 C131.8,421.1 132.5,420.6 142.6,422.8 C152.7,425.0 150.0,423.8 159.4,426.0 C168.8,428.2 168.7,428.0 174.1,430.2 C179.5,432.4 176.3,432.4 177.3,433.3" fill="none" stroke="#00007f" stroke-width="4.6" stroke-linejoin="round" stroke-linecap="round"/>
<line x1="134.2" y1="417.6" x2="161.5" y2="417.6" stroke="#008000" stroke-width="1" stroke-opacity="0.75"/>
<circle cx="61.7" cy="372.4" r="2.1" fill="#1a65c8"/>
<circle cx="70.7" cy="371.3" r="2.1" fill="#1a65c8"/>
<circle cx="86.9" cy="375.1" r="2.1" fill="#1a65c8"/>
<circle cx="92.1" cy="372.4" r="2.1" fill="#1a65c8"/>
<circle cx="99.5" cy="375.1" r="2.1" fill="#1a65c8"/>
<circle cx="112.1" cy="373.0" r="2.1" fill="#1a65c8"/>
<circle cx="72.2" cy="380.8" r="2.1" fill="#1a65c8"/>
<circle cx="85.8" cy="380.8" r="2.1" fill="#1a65c8"/>
<circle cx="88.0" cy="383.9" r="2.1" fill="#1a65c8"/>
<circle cx="78.5" cy="389.2" r="2.1" fill="#1a65c8"/>
<circle cx="98.5" cy="389.2" r="2.1" fill="#1a65c8"/>
<circle cx="114.2" cy="408.1" r="2.1" fill="#008000"/>
<circle cx="134.2" cy="409.6" r="2.1" fill="#008000"/>
<circle cx="139.4" cy="411.7" r="2.1" fill="#008000"/>
<circle cx="119.5" cy="415.9" r="2.1" fill="#008000"/>
<circle cx="147.9" cy="417.6" r="2.1" fill="#008000"/>
<circle cx="83.7" cy="421.3" r="2.1" fill="#008000"/>
<circle cx="117.8" cy="421.3" r="2.1" fill="#008000"/></g>
<rect x="49.55" y="258.6" width="138.9" height="175.79999999999995" fill="none" stroke="#000" stroke-width="1"/>
<line x1="62.18" y1="434.40" x2="62.18" y2="439.70" stroke="#222" stroke-width="0.9" />
<text x="55.51" y="452.50" font-size="9.32" font-weight="normal" fill="#000" textLength="13.34" lengthAdjust="spacingAndGlyphs" >−3</text>
<line x1="100.06" y1="434.40" x2="100.06" y2="439.70" stroke="#222" stroke-width="0.9" />
<text x="97.18" y="452.50" font-size="9.32" font-weight="normal" fill="#000" textLength="5.76" lengthAdjust="spacingAndGlyphs" >0</text>
<line x1="137.94" y1="434.40" x2="137.94" y2="439.70" stroke="#222" stroke-width="0.9" />
<text x="135.06" y="452.50" font-size="9.32" font-weight="normal" fill="#000" textLength="5.76" lengthAdjust="spacingAndGlyphs" >3</text>
<line x1="175.82" y1="434.40" x2="175.82" y2="439.70" stroke="#222" stroke-width="0.9" />
<text x="172.94" y="452.50" font-size="9.32" font-weight="normal" fill="#000" textLength="5.76" lengthAdjust="spacingAndGlyphs" >6</text>
<text x="57.50" y="469.20" font-size="9.32" textLength="123.00" lengthAdjust="spacingAndGlyphs">ANCP<tspan font-size="6.53" font-style="italic" dy="1.6">H</tspan><tspan dy="-1.6"> (mol C m</tspan><tspan font-size="6.53" dy="-3.6">−2</tspan><tspan dy="3.6"> year</tspan><tspan font-size="6.53" dy="-3.6">−1</tspan><tspan dy="3.6">)</tspan></text>
<text x="102.02" y="250.00" font-size="11.33" font-weight="normal" fill="#000" textLength="33.97" lengthAdjust="spacingAndGlyphs" >Indian</text>
<text x="51.05" y="250.70" font-size="9.32" font-weight="bold" fill="#000" textLength="5.36" lengthAdjust="spacingAndGlyphs" >c</text>
<rect x="200.85" y="258.6" width="138.9" height="175.79999999999995" fill="#fff"/>
<g clip-path="url(#pclip1)"><path d="M339.8,263.4 L339.8,284.7 L334.0,285.5 L334.0,289.0 L339.8,289.5 L339.8,318.5 L322.5,320.0 L313.0,332.0 L320.6,333.0 L325.0,346.0 L339.8,347.0 L339.8,360.0 L326.7,362.0 L310.4,370.0 L300.0,373.0 L288.0,378.0 L283.0,385.0 L283.0,400.0 L295.0,404.0 L315.0,410.0 L339.8,413.4 L339.8,434.2 L201.0,434.2 L201.0,416.0 L231.0,415.0 L231.0,399.0 L209.0,398.0 L201.0,389.0 L201.0,377.0 L209.0,376.7 L209.0,359.5 L229.0,357.0 L228.0,342.0 L226.0,332.3 L236.0,330.0 L236.0,320.0 L235.1,318.9 L235.1,307.5 L214.7,306.3 L214.7,300.0 L201.1,298.4 L201.1,291.4 L214.7,288.2 L250.9,279.6 L290.2,267.8 L325.1,265.5 Z" fill="#d3e4f0"/></g>
<line x1="213.48" y1="258.60" x2="213.48" y2="434.40" stroke="#444" stroke-width="0.8" />
<line x1="251.36" y1="258.60" x2="251.36" y2="434.40" stroke="#222" stroke-width="1.0" />
<line x1="289.24" y1="258.60" x2="289.24" y2="434.40" stroke="#444" stroke-width="0.8" />
<line x1="327.12" y1="258.60" x2="327.12" y2="434.40" stroke="#444" stroke-width="0.8" />
<line x1="200.85" y1="261.60" x2="339.75" y2="261.60" stroke="#444" stroke-width="0.8" />
<line x1="200.85" y1="289.95" x2="339.75" y2="289.95" stroke="#444" stroke-width="0.8" />
<line x1="200.85" y1="318.30" x2="339.75" y2="318.30" stroke="#444" stroke-width="0.8" />
<line x1="200.85" y1="346.65" x2="339.75" y2="346.65" stroke="#222" stroke-width="1.0" />
<line x1="200.85" y1="375.00" x2="339.75" y2="375.00" stroke="#444" stroke-width="0.8" />
<line x1="200.85" y1="403.35" x2="339.75" y2="403.35" stroke="#444" stroke-width="0.8" />
<line x1="200.85" y1="431.70" x2="339.75" y2="431.70" stroke="#444" stroke-width="0.8" />
<g clip-path="url(#pclip1)"><path d="M254.7,261.3 C252.2,263.2 248.8,264.5 246.3,267.6 C243.8,270.8 243.8,269.0 246.3,271.8 C248.8,274.6 248.7,273.6 254.7,277.0 C260.7,280.4 260.6,279.5 266.3,283.3 C272.0,287.1 270.5,286.1 273.6,289.6 C276.8,293.1 277.9,290.9 276.8,294.9 C275.7,298.9 274.4,297.9 270.0,303.0 C265.6,308.1 265.6,307.2 262.0,312.0 C258.4,316.8 261.0,313.8 257.9,319.1 C254.8,324.4 254.8,323.9 251.6,329.6 C248.4,335.3 252.4,333.0 247.3,338.0 C242.2,343.0 240.2,342.8 234.7,346.4 C229.2,350.0 230.9,347.9 229.0,350.0 C227.1,352.1 227.0,350.8 228.4,353.4 C229.8,356.0 229.9,355.8 233.7,358.7 C237.5,361.6 236.3,360.4 241.0,362.9 C245.7,365.4 245.3,363.2 249.5,367.1 C253.7,371.0 251.8,370.6 255.0,376.0 C258.1,381.4 257.2,379.8 260.0,385.0 C262.8,390.2 261.7,387.6 264.2,393.3 C266.7,399.0 268.4,396.9 268.4,403.9 C268.4,410.9 268.0,410.2 264.2,416.5 C260.4,422.8 260.2,419.9 255.8,424.9 C251.4,429.9 251.4,430.8 249.5,433.3" fill="none" stroke="#777" stroke-width="2.2" stroke-dasharray="7.4,3.2"/>
<path d="M330.4,263.4 C327.9,264.7 324.2,264.5 322.0,267.6 C319.8,270.8 324.6,270.8 323.0,273.9 C321.4,277.0 323.6,275.9 316.7,278.1 C309.8,280.3 309.3,279.3 299.9,281.2 C290.4,283.1 292.8,282.5 285.2,284.4 C277.6,286.3 280.1,285.3 274.7,287.5 C269.3,289.7 269.8,289.1 267.3,291.7 C264.8,294.2 264.7,293.8 266.3,296.0 C267.9,298.2 271.0,297.2 272.6,299.1 C274.2,301.0 274.6,300.3 271.5,302.2 C268.4,304.1 265.9,303.2 262.1,305.4 C258.3,307.6 259.9,306.8 258.9,309.6 C257.9,312.5 257.9,311.8 258.9,314.9 C259.9,318.0 259.2,317.0 262.1,320.1 C265.0,323.2 264.6,321.9 268.4,325.4 C272.2,328.9 273.4,328.2 274.7,331.7 C276.0,335.1 271.3,333.8 272.6,336.9 C273.9,340.0 275.5,338.9 278.9,342.2 C282.3,345.5 282.4,345.3 284.0,348.0 C285.6,350.7 285.0,348.4 284.1,351.3 C283.2,354.2 285.7,354.5 281.0,357.6 C276.3,360.8 274.7,358.7 268.4,361.8 C262.1,364.9 264.7,364.0 260.0,368.1 C255.3,372.2 255.8,371.4 252.6,375.5 C249.4,379.6 249.8,378.4 249.5,381.8 C249.2,385.2 250.0,382.9 251.6,387.0 C253.2,391.1 252.8,391.1 254.7,395.5 C256.6,399.9 255.7,398.7 257.9,401.8 C260.1,404.9 262.1,403.5 262.1,406.0 C262.1,408.5 259.5,407.7 257.9,410.2 C256.3,412.7 255.5,412.2 256.8,414.4 C258.1,416.6 255.5,415.6 262.1,417.5 C268.7,419.4 268.2,418.8 278.9,420.7 C289.6,422.6 286.5,421.6 297.8,423.8 C309.1,426.0 306.9,425.5 316.7,428.0 C326.5,430.5 326.3,430.9 330.4,432.2" fill="none" stroke="#00007f" stroke-width="4.6" stroke-linejoin="round" stroke-linecap="round"/>
<line x1="283.0" y1="276.2" x2="327.2" y2="276.2" stroke="#ff6347" stroke-width="1" stroke-opacity="0.75"/>
<line x1="272.0" y1="275.5" x2="296.0" y2="275.5" stroke="#ff6347" stroke-width="1" stroke-opacity="0.75"/>
<line x1="262.0" y1="287.5" x2="290.0" y2="287.5" stroke="#1a65c8" stroke-width="1" stroke-opacity="0.75"/>
<line x1="268.0" y1="287.5" x2="295.0" y2="287.5" stroke="#1a65c8" stroke-width="1" stroke-opacity="0.75"/>
<line x1="272.0" y1="287.5" x2="300.0" y2="287.5" stroke="#1a65c8" stroke-width="1" stroke-opacity="0.75"/>
<line x1="285.0" y1="287.5" x2="310.0" y2="287.5" stroke="#1a65c8" stroke-width="1" stroke-opacity="0.75"/>
<line x1="290.0" y1="287.5" x2="315.0" y2="287.5" stroke="#1a65c8" stroke-width="1" stroke-opacity="0.75"/>
<line x1="247.3" y1="293.0" x2="268.4" y2="293.0" stroke="#1a65c8" stroke-width="1" stroke-opacity="0.75"/>
<line x1="287.0" y1="292.0" x2="305.0" y2="292.0" stroke="#1a65c8" stroke-width="1" stroke-opacity="0.75"/>
<line x1="292.0" y1="292.5" x2="310.0" y2="292.5" stroke="#1a65c8" stroke-width="1" stroke-opacity="0.75"/>
<line x1="285.0" y1="297.0" x2="305.0" y2="297.0" stroke="#1a65c8" stroke-width="1" stroke-opacity="0.75"/>
<line x1="265.0" y1="303.5" x2="285.0" y2="303.5" stroke="#1a65c8" stroke-width="1" stroke-opacity="0.75"/>
<line x1="278.0" y1="304.0" x2="295.0" y2="304.0" stroke="#1a65c8" stroke-width="1" stroke-opacity="0.75"/>
<line x1="290.0" y1="304.5" x2="306.0" y2="304.5" stroke="#1a65c8" stroke-width="1" stroke-opacity="0.75"/>
<line x1="317.0" y1="301.2" x2="340.0" y2="301.2" stroke="#ff6347" stroke-width="1" stroke-opacity="0.75"/>
<line x1="300.0" y1="309.7" x2="340.0" y2="309.7" stroke="#ff6347" stroke-width="1" stroke-opacity="0.75"/>
<line x1="230.5" y1="312.0" x2="330.0" y2="312.0" stroke="#ff6347" stroke-width="1" stroke-opacity="0.75"/>
<line x1="240.0" y1="312.0" x2="300.0" y2="312.0" stroke="#ff6347" stroke-width="1" stroke-opacity="0.75"/>
<line x1="250.0" y1="312.0" x2="300.0" y2="312.0" stroke="#ff6347" stroke-width="1" stroke-opacity="0.75"/>
<line x1="270.0" y1="312.0" x2="320.0" y2="312.0" stroke="#ff6347" stroke-width="1" stroke-opacity="0.75"/>
<line x1="270.0" y1="312.0" x2="330.0" y2="312.0" stroke="#ff6347" stroke-width="1" stroke-opacity="0.75"/>
<line x1="280.0" y1="312.0" x2="340.0" y2="312.0" stroke="#ff6347" stroke-width="1" stroke-opacity="0.75"/>
<line x1="285.0" y1="312.0" x2="330.0" y2="312.0" stroke="#ff6347" stroke-width="1" stroke-opacity="0.75"/>
<line x1="300.0" y1="310.6" x2="322.0" y2="310.6" stroke="#008000" stroke-width="1" stroke-opacity="0.75"/>
<line x1="255.0" y1="325.4" x2="285.0" y2="325.4" stroke="#ff6347" stroke-width="1" stroke-opacity="0.75"/>
<line x1="270.0" y1="325.4" x2="300.0" y2="325.4" stroke="#1a65c8" stroke-width="1" stroke-opacity="0.75"/>
<line x1="280.0" y1="325.4" x2="305.0" y2="325.4" stroke="#1a65c8" stroke-width="1" stroke-opacity="0.75"/>
<line x1="263.0" y1="332.7" x2="317.0" y2="332.7" stroke="#1a65c8" stroke-width="1" stroke-opacity="0.75"/>
<line x1="281.0" y1="340.0" x2="314.0" y2="340.0" stroke="#1a65c8" stroke-width="1" stroke-opacity="0.75"/>
<line x1="255.0" y1="347.5" x2="330.0" y2="347.5" stroke="#ff6347" stroke-width="1" stroke-opacity="0.75"/>
<line x1="290.0" y1="349.0" x2="334.0" y2="349.0" stroke="#ff6347" stroke-width="1" stroke-opacity="0.75"/>
<line x1="274.7" y1="353.4" x2="304.0" y2="353.4" stroke="#1a65c8" stroke-width="1" stroke-opacity="0.75"/>
<line x1="255.0" y1="360.5" x2="320.0" y2="360.5" stroke="#ff6347" stroke-width="1" stroke-opacity="0.75"/>
<line x1="276.0" y1="367.5" x2="300.0" y2="367.5" stroke="#ff6347" stroke-width="1" stroke-opacity="0.75"/>
<line x1="262.0" y1="375.5" x2="290.0" y2="375.5" stroke="#1a65c8" stroke-width="1" stroke-opacity="0.75"/>
<line x1="268.0" y1="375.5" x2="295.0" y2="375.5" stroke="#ff6347" stroke-width="1" stroke-opacity="0.75"/>
<line x1="255.0" y1="383.0" x2="285.0" y2="383.0" stroke="#1a65c8" stroke-width="1" stroke-opacity="0.75"/>
<line x1="266.0" y1="389.5" x2="281.0" y2="389.5" stroke="#ff6347" stroke-width="1" stroke-opacity="0.75"/>
<line x1="264.0" y1="413.3" x2="301.0" y2="413.3" stroke="#ff6347" stroke-width="1" stroke-opacity="0.75"/>
<line x1="292.0" y1="418.0" x2="310.0" y2="418.0" stroke="#008000" stroke-width="1" stroke-opacity="0.75"/>
<circle cx="256.8" cy="276.2" r="2.1" fill="#1a65c8"/>
<circle cx="261.0" cy="276.2" r="2.1" fill="#1a65c8"/>
<circle cx="266.3" cy="276.2" r="2.1" fill="#1a65c8"/>
<circle cx="269.4" cy="276.2" r="2.1" fill="#1a65c8"/>
<circle cx="273.6" cy="276.2" r="2.1" fill="#1a65c8"/>
<circle cx="276.8" cy="276.2" r="2.1" fill="#1a65c8"/>
<circle cx="278.9" cy="276.2" r="2.1" fill="#1a65c8"/>
<circle cx="282.0" cy="276.2" r="2.1" fill="#1a65c8"/>
<circle cx="285.2" cy="276.2" r="2.1" fill="#1a65c8"/>
<circle cx="289.4" cy="276.2" r="2.1" fill="#1a65c8"/>
<circle cx="308.3" cy="276.2" r="2.1" fill="#ff6347"/>
<circle cx="280.0" cy="275.5" r="2.1" fill="#ff6347"/>
<circle cx="268.4" cy="280.0" r="2.1" fill="#1a65c8"/>
<circle cx="274.7" cy="280.0" r="2.1" fill="#1a65c8"/>
<circle cx="280.0" cy="280.0" r="2.1" fill="#1a65c8"/>
<circle cx="285.2" cy="280.0" r="2.1" fill="#1a65c8"/>
<circle cx="289.4" cy="280.0" r="2.1" fill="#1a65c8"/>
<circle cx="289.4" cy="281.5" r="2.1" fill="#ff6347"/>
<circle cx="273.6" cy="287.5" r="2.1" fill="#1a65c8"/>
<circle cx="278.9" cy="287.5" r="2.1" fill="#1a65c8"/>
<circle cx="283.1" cy="287.5" r="2.1" fill="#1a65c8"/>
<circle cx="295.7" cy="287.5" r="2.1" fill="#1a65c8"/>
<circle cx="302.0" cy="287.5" r="2.1" fill="#1a65c8"/>
<circle cx="260.0" cy="293.0" r="2.1" fill="#1a65c8"/>
<circle cx="282.0" cy="291.0" r="2.1" fill="#1a65c8"/>
<circle cx="284.0" cy="294.0" r="2.1" fill="#1a65c8"/>
<circle cx="295.7" cy="292.0" r="2.1" fill="#1a65c8"/>
<circle cx="301.0" cy="292.5" r="2.1" fill="#1a65c8"/>
<circle cx="292.5" cy="297.0" r="2.1" fill="#1a65c8"/>
<circle cx="296.7" cy="297.0" r="2.1" fill="#1a65c8"/>
<circle cx="301.0" cy="296.0" r="2.1" fill="#1a65c8"/>
<circle cx="272.6" cy="303.5" r="2.1" fill="#1a65c8"/>
<circle cx="285.2" cy="304.0" r="2.1" fill="#1a65c8"/>
<circle cx="278.9" cy="303.5" r="2.1" fill="#ff6347"/>
<circle cx="293.6" cy="305.0" r="2.1" fill="#ff6347"/>
<circle cx="297.8" cy="304.5" r="2.1" fill="#1a65c8"/>
<circle cx="301.0" cy="303.5" r="2.1" fill="#1a65c8"/>
<circle cx="318.0" cy="301.2" r="2.1" fill="#ff6347"/>
<circle cx="340.0" cy="309.7" r="2.1" fill="#ff6347"/>
<circle cx="256.8" cy="313.5" r="2.1" fill="#1a65c8"/>
<circle cx="261.0" cy="313.5" r="2.1" fill="#1a65c8"/>
<circle cx="266.3" cy="313.5" r="2.1" fill="#1a65c8"/>
<circle cx="270.5" cy="313.5" r="2.1" fill="#1a65c8"/>
<circle cx="274.7" cy="313.5" r="2.1" fill="#1a65c8"/>
<circle cx="278.9" cy="313.5" r="2.1" fill="#1a65c8"/>
<circle cx="283.1" cy="313.5" r="2.1" fill="#1a65c8"/>
<circle cx="287.3" cy="313.5" r="2.1" fill="#1a65c8"/>
<circle cx="291.5" cy="313.5" r="2.1" fill="#1a65c8"/>
<circle cx="264.2" cy="312.0" r="2.1" fill="#ff6347"/>
<circle cx="268.4" cy="312.0" r="2.1" fill="#ff6347"/>
<circle cx="271.5" cy="312.0" r="2.1" fill="#ff6347"/>
<circle cx="287.3" cy="312.0" r="2.1" fill="#ff6347"/>
<circle cx="289.4" cy="312.0" r="2.1" fill="#ff6347"/>
<circle cx="295.7" cy="312.0" r="2.1" fill="#ff6347"/>
<circle cx="302.0" cy="312.0" r="2.1" fill="#ff6347"/>
<circle cx="260.6" cy="312.5" r="2.1" fill="#008000"/>
<circle cx="298.9" cy="310.6" r="2.1" fill="#008000"/>
<circle cx="256.8" cy="319.0" r="2.1" fill="#1a65c8"/>
<circle cx="262.1" cy="319.0" r="2.1" fill="#1a65c8"/>
<circle cx="266.3" cy="319.0" r="2.1" fill="#1a65c8"/>
<circle cx="270.5" cy="319.0" r="2.1" fill="#1a65c8"/>
<circle cx="277.0" cy="319.0" r="2.1" fill="#1a65c8"/>
<circle cx="283.1" cy="319.0" r="2.1" fill="#1a65c8"/>
<circle cx="289.4" cy="319.0" r="2.1" fill="#1a65c8"/>
<circle cx="271.5" cy="325.4" r="2.1" fill="#ff6347"/>
<circle cx="283.1" cy="325.4" r="2.1" fill="#1a65c8"/>
<circle cx="285.2" cy="325.4" r="2.1" fill="#1a65c8"/>
<circle cx="290.4" cy="325.4" r="2.1" fill="#1a65c8"/>
<circle cx="292.5" cy="332.7" r="2.1" fill="#ff6347"/>
<circle cx="297.8" cy="332.7" r="2.1" fill="#1a65c8"/>
<circle cx="295.7" cy="340.0" r="2.1" fill="#1a65c8"/>
<circle cx="260.0" cy="347.5" r="2.1" fill="#ff6347"/>
<circle cx="266.3" cy="349.0" r="2.1" fill="#ff6347"/>
<circle cx="270.5" cy="349.0" r="2.1" fill="#ff6347"/>
<circle cx="273.6" cy="349.0" r="2.1" fill="#ff6347"/>
<circle cx="287.3" cy="348.0" r="2.1" fill="#ff6347"/>
<circle cx="304.1" cy="349.0" r="2.1" fill="#ff6347"/>
<circle cx="289.4" cy="353.4" r="2.1" fill="#1a65c8"/>
<circle cx="295.7" cy="353.4" r="2.1" fill="#ff6347"/>
<circle cx="301.0" cy="360.5" r="2.1" fill="#ff6347"/>
<circle cx="307.3" cy="359.0" r="2.1" fill="#ff6347"/>
<circle cx="282.0" cy="360.5" r="2.1" fill="#1a65c8"/>
<circle cx="246.3" cy="361.0" r="2.1" fill="#1a65c8"/>
<circle cx="268.4" cy="367.0" r="2.1" fill="#1a65c8"/>
<circle cx="275.7" cy="367.0" r="2.1" fill="#1a65c8"/>
<circle cx="282.0" cy="366.0" r="2.1" fill="#1a65c8"/>
<circle cx="289.4" cy="367.5" r="2.1" fill="#ff6347"/>
<circle cx="252.6" cy="371.0" r="2.1" fill="#1a65c8"/>
<circle cx="258.9" cy="370.0" r="2.1" fill="#1a65c8"/>
<circle cx="255.8" cy="375.5" r="2.1" fill="#1a65c8"/>
<circle cx="267.3" cy="375.5" r="2.1" fill="#1a65c8"/>
<circle cx="282.0" cy="375.5" r="2.1" fill="#ff6347"/>
<circle cx="247.3" cy="382.5" r="2.1" fill="#1a65c8"/>
<circle cx="250.5" cy="383.0" r="2.1" fill="#1a65c8"/>
<circle cx="265.2" cy="383.0" r="2.1" fill="#1a65c8"/>
<circle cx="275.7" cy="382.5" r="2.1" fill="#1a65c8"/>
<circle cx="262.1" cy="381.5" r="2.1" fill="#ff6347"/>
<circle cx="278.9" cy="382.5" r="2.1" fill="#ff6347"/>
<circle cx="252.6" cy="389.0" r="2.1" fill="#008000"/>
<circle cx="254.7" cy="389.0" r="2.1" fill="#008000"/>
<circle cx="262.1" cy="389.0" r="2.1" fill="#1a65c8"/>
<circle cx="268.4" cy="389.0" r="2.1" fill="#1a65c8"/>
<circle cx="274.7" cy="389.0" r="2.1" fill="#1a65c8"/>
<circle cx="275.7" cy="389.5" r="2.1" fill="#ff6347"/>
<circle cx="237.9" cy="395.0" r="2.1" fill="#1a65c8"/>
<circle cx="241.0" cy="395.0" r="2.1" fill="#1a65c8"/>
<circle cx="245.2" cy="395.0" r="2.1" fill="#1a65c8"/>
<circle cx="248.4" cy="395.0" r="2.1" fill="#1a65c8"/>
<circle cx="253.7" cy="395.0" r="2.1" fill="#1a65c8"/>
<circle cx="258.9" cy="395.0" r="2.1" fill="#1a65c8"/>
<circle cx="274.7" cy="395.0" r="2.1" fill="#1a65c8"/>
<circle cx="276.8" cy="395.0" r="2.1" fill="#1a65c8"/>
<circle cx="277.9" cy="395.0" r="2.1" fill="#1a65c8"/>
<circle cx="248.4" cy="402.3" r="2.1" fill="#008000"/>
<circle cx="257.9" cy="403.0" r="2.1" fill="#008000"/>
<circle cx="262.1" cy="403.0" r="2.1" fill="#1a65c8"/>
<circle cx="264.2" cy="404.0" r="2.1" fill="#1a65c8"/>
<circle cx="270.5" cy="404.0" r="2.1" fill="#1a65c8"/>
<circle cx="273.6" cy="402.5" r="2.1" fill="#1a65c8"/>
<circle cx="275.7" cy="403.5" r="2.1" fill="#1a65c8"/>
<circle cx="274.7" cy="410.0" r="2.1" fill="#1a65c8"/>
<circle cx="276.8" cy="410.0" r="2.1" fill="#1a65c8"/>
<circle cx="278.9" cy="410.0" r="2.1" fill="#1a65c8"/>
<circle cx="281.0" cy="410.0" r="2.1" fill="#1a65c8"/>
<circle cx="282.1" cy="410.0" r="2.1" fill="#1a65c8"/>
<circle cx="276.0" cy="410.0" r="2.1" fill="#1a65c8"/>
<circle cx="280.0" cy="410.0" r="2.1" fill="#1a65c8"/>
<circle cx="283.1" cy="411.0" r="2.1" fill="#008000"/>
<circle cx="280.0" cy="413.3" r="2.1" fill="#ff6347"/>
<circle cx="274.7" cy="418.5" r="2.1" fill="#1a65c8"/>
<circle cx="277.0" cy="418.5" r="2.1" fill="#1a65c8"/>
<circle cx="279.0" cy="418.5" r="2.1" fill="#1a65c8"/>
<circle cx="281.0" cy="418.5" r="2.1" fill="#1a65c8"/>
<circle cx="283.1" cy="418.5" r="2.1" fill="#1a65c8"/>
<circle cx="286.0" cy="418.5" r="2.1" fill="#1a65c8"/>
<circle cx="288.4" cy="418.5" r="2.1" fill="#1a65c8"/>
<circle cx="295.7" cy="418.0" r="2.1" fill="#008000"/>
<circle cx="301.0" cy="417.0" r="2.1" fill="#008000"/>
<circle cx="304.1" cy="418.0" r="2.1" fill="#008000"/>
<circle cx="327.2" cy="421.0" r="2.1" fill="#008000"/>
<circle cx="254.7" cy="424.0" r="2.1" fill="#008000"/>
<circle cx="287.3" cy="424.5" r="2.1" fill="#1a65c8"/>
<circle cx="291.5" cy="425.0" r="2.1" fill="#1a65c8"/>
<circle cx="291.5" cy="428.0" r="2.1" fill="#1a65c8"/>
<circle cx="297.8" cy="428.0" r="2.1" fill="#1a65c8"/>
<circle cx="281.0" cy="430.4" r="2.1" fill="#1a65c8"/>
<circle cx="285.2" cy="429.5" r="2.1" fill="#1a65c8"/>
<circle cx="296.7" cy="431.5" r="2.1" fill="#1a65c8"/>
<circle cx="293.6" cy="433.0" r="2.1" fill="#008000"/></g>
<rect x="200.85" y="258.6" width="138.9" height="175.79999999999995" fill="none" stroke="#000" stroke-width="1"/>
<line x1="213.48" y1="434.40" x2="213.48" y2="439.70" stroke="#222" stroke-width="0.9" />
<text x="206.81" y="452.50" font-size="9.32" font-weight="normal" fill="#000" textLength="13.34" lengthAdjust="spacingAndGlyphs" >−3</text>
<line x1="251.36" y1="434.40" x2="251.36" y2="439.70" stroke="#222" stroke-width="0.9" />
<text x="248.48" y="452.50" font-size="9.32" font-weight="normal" fill="#000" textLength="5.76" lengthAdjust="spacingAndGlyphs" >0</text>
<line x1="289.24" y1="434.40" x2="289.24" y2="439.70" stroke="#222" stroke-width="0.9" />
<text x="286.36" y="452.50" font-size="9.32" font-weight="normal" fill="#000" textLength="5.76" lengthAdjust="spacingAndGlyphs" >3</text>
<line x1="327.12" y1="434.40" x2="327.12" y2="439.70" stroke="#222" stroke-width="0.9" />
<text x="324.24" y="452.50" font-size="9.32" font-weight="normal" fill="#000" textLength="5.76" lengthAdjust="spacingAndGlyphs" >6</text>
<text x="208.80" y="469.20" font-size="9.32" textLength="123.00" lengthAdjust="spacingAndGlyphs">ANCP<tspan font-size="6.53" font-style="italic" dy="1.6">H</tspan><tspan dy="-1.6"> (mol C m</tspan><tspan font-size="6.53" dy="-3.6">−2</tspan><tspan dy="3.6"> year</tspan><tspan font-size="6.53" dy="-3.6">−1</tspan><tspan dy="3.6">)</tspan></text>
<text x="252.82" y="250.00" font-size="11.33" font-weight="normal" fill="#000" textLength="34.96" lengthAdjust="spacingAndGlyphs" >Pacific</text>
<text x="202.35" y="250.70" font-size="9.32" font-weight="bold" fill="#000" textLength="6.48" lengthAdjust="spacingAndGlyphs" >d</text>
<rect x="352.15" y="258.6" width="138.9" height="175.79999999999995" fill="#fff"/>
<g clip-path="url(#pclip2)"><path d="M491.0,259.0 L491.0,272.8 L484.5,273.5 L484.5,276.5 L491.0,277.0 L491.0,300.0 L480.0,304.0 L470.0,306.0 L484.5,312.6 L476.0,321.0 L467.7,327.0 L467.7,340.0 L491.0,341.0 L491.0,350.5 L478.0,352.0 L476.0,361.0 L476.0,374.4 L446.7,375.0 L446.7,387.0 L491.0,389.0 L491.0,434.2 L352.2,434.2 L352.2,423.0 L387.8,422.8 L387.8,416.5 L352.2,416.0 L352.2,392.0 L387.8,391.2 L387.8,380.7 L352.2,380.0 L352.2,366.5 L385.7,366.0 L385.7,361.0 L406.8,360.0 L406.8,350.5 L419.4,340.0 L419.4,321.0 L394.0,320.0 L394.0,312.6 L398.0,306.0 L385.7,304.0 L392.0,298.0 L379.0,296.0 L377.0,289.6 L352.2,289.0 L352.2,264.4 L392.0,260.0 L395.0,258.7 Z" fill="#d3e4f0"/></g>
<line x1="364.78" y1="258.60" x2="364.78" y2="434.40" stroke="#444" stroke-width="0.8" />
<line x1="402.66" y1="258.60" x2="402.66" y2="434.40" stroke="#222" stroke-width="1.0" />
<line x1="440.54" y1="258.60" x2="440.54" y2="434.40" stroke="#444" stroke-width="0.8" />
<line x1="478.42" y1="258.60" x2="478.42" y2="434.40" stroke="#444" stroke-width="0.8" />
<line x1="352.15" y1="261.60" x2="491.05" y2="261.60" stroke="#444" stroke-width="0.8" />
<line x1="352.15" y1="289.95" x2="491.05" y2="289.95" stroke="#444" stroke-width="0.8" />
<line x1="352.15" y1="318.30" x2="491.05" y2="318.30" stroke="#444" stroke-width="0.8" />
<line x1="352.15" y1="346.65" x2="491.05" y2="346.65" stroke="#222" stroke-width="1.0" />
<line x1="352.15" y1="375.00" x2="491.05" y2="375.00" stroke="#444" stroke-width="0.8" />
<line x1="352.15" y1="403.35" x2="491.05" y2="403.35" stroke="#444" stroke-width="0.8" />
<line x1="352.15" y1="431.70" x2="491.05" y2="431.70" stroke="#444" stroke-width="0.8" />
<g clip-path="url(#pclip2)"><path d="M424.6,259.2 C426.2,260.8 427.0,260.9 429.9,264.4 C432.8,267.8 433.2,266.9 434.1,270.7 C435.0,274.5 434.9,272.6 433.0,277.0 C431.1,281.4 431.9,280.4 427.8,285.4 C423.7,290.4 424.4,288.8 419.4,293.8 C414.4,298.8 415.4,297.1 411.0,302.2 C406.6,307.3 407.2,305.6 404.7,310.7 C402.2,315.8 403.6,313.4 402.6,319.1 C401.6,324.8 401.8,323.9 401.5,329.6 C401.2,335.3 402.5,333.6 401.5,338.0 C400.5,342.4 400.9,341.3 398.3,344.3 C395.8,347.3 395.2,345.6 393.0,348.0 C390.8,350.4 391.0,348.9 391.0,352.4 C391.0,355.9 390.9,354.4 393.1,359.7 C395.3,365.0 395.8,363.9 398.3,370.2 C400.8,376.5 396.4,374.1 401.5,380.7 C406.6,387.3 406.1,385.7 415.2,392.3 C424.3,398.9 428.9,397.4 432.0,402.8 C435.1,408.2 431.4,405.8 425.7,410.2 C420.0,414.6 419.4,412.8 413.1,417.5 C406.8,422.2 407.6,421.2 404.7,425.9 C401.8,430.6 403.9,431.1 403.6,433.3" fill="none" stroke="#777" stroke-width="2.2" stroke-dasharray="7.4,3.2"/>
<path d="M438.3,259.2 C440.2,260.5 444.6,260.9 444.6,263.4 C444.6,265.9 445.9,265.1 438.3,267.6 C430.7,270.1 430.1,269.3 419.4,271.8 C408.7,274.3 409.9,273.2 402.6,276.0 C395.3,278.8 395.2,278.7 395.2,281.2 C395.2,283.7 394.1,282.8 402.6,284.4 C411.1,286.0 410.4,284.9 423.6,286.5 C436.8,288.1 437.9,287.7 446.7,289.6 C455.5,291.5 454.3,290.9 453.0,292.8 C451.7,294.7 450.1,294.1 442.5,296.0 C434.9,297.9 435.4,296.9 427.8,299.1 C420.2,301.3 419.8,300.8 417.3,303.3 C414.8,305.8 416.2,305.0 419.4,307.5 C422.5,310.0 423.4,308.8 427.8,311.7 C432.2,314.6 431.0,314.1 434.1,317.0 C437.2,319.9 435.8,318.7 438.3,321.2 C440.8,323.7 438.1,322.9 442.5,325.4 C446.9,327.9 448.9,327.1 453.0,329.6 C457.1,332.1 456.2,331.0 456.2,333.8 C456.2,336.6 455.9,336.5 453.0,339.0 C450.1,341.5 446.1,340.4 446.7,342.2 C447.3,344.0 450.6,343.7 455.0,345.0 C459.4,346.3 463.3,344.9 461.4,346.5 C459.5,348.1 457.0,347.3 448.8,350.3 C440.6,353.3 440.4,353.2 434.1,356.6 C427.8,360.1 434.7,359.0 427.8,361.8 C420.9,364.6 420.5,363.1 411.0,366.0 C401.5,368.9 401.9,368.2 396.2,371.3 C390.5,374.4 392.0,373.7 392.0,376.5 C392.0,379.3 391.8,378.5 396.2,380.7 C400.6,382.9 403.6,381.7 406.8,383.9 C410.0,386.1 411.2,385.3 406.8,388.1 C402.4,390.9 398.3,390.4 392.0,393.3 C385.7,396.2 385.7,395.4 385.7,397.6 C385.7,399.8 385.0,398.8 392.0,400.7 C399.0,402.6 402.6,401.7 408.9,403.9 C415.2,406.1 413.7,405.9 413.1,408.1 C412.5,410.3 406.8,409.3 406.8,411.2 C406.8,413.1 403.7,412.2 413.1,414.4 C422.6,416.6 427.0,416.1 438.3,418.6 C449.6,421.1 449.6,420.6 450.9,422.8 C452.2,425.0 450.7,424.0 442.5,425.9 C434.3,427.8 429.9,427.2 423.6,429.1 C417.3,431.0 420.2,430.8 421.5,432.2 C422.8,433.6 425.9,433.3 427.8,433.8" fill="none" stroke="#00007f" stroke-width="4.6" stroke-linejoin="round" stroke-linecap="round"/>
<line x1="396.2" y1="261.7" x2="436.2" y2="261.7" stroke="#1a65c8" stroke-width="1" stroke-opacity="0.75"/>
<line x1="394.1" y1="276.0" x2="428.8" y2="276.0" stroke="#1a65c8" stroke-width="1" stroke-opacity="0.75"/>
<line x1="440.4" y1="277.7" x2="474.0" y2="277.7" stroke="#ff6347" stroke-width="1" stroke-opacity="0.75"/>
<line x1="403.6" y1="289.6" x2="471.9" y2="289.6" stroke="#ff6347" stroke-width="1" stroke-opacity="0.75"/>
<line x1="408.0" y1="301.2" x2="420.0" y2="301.2" stroke="#ff6347" stroke-width="1" stroke-opacity="0.75"/>
<line x1="420.0" y1="301.2" x2="440.0" y2="301.2" stroke="#ff6347" stroke-width="1" stroke-opacity="0.75"/>
<line x1="438.0" y1="301.2" x2="467.0" y2="301.2" stroke="#ff6347" stroke-width="1" stroke-opacity="0.75"/>
<line x1="420.0" y1="304.0" x2="455.0" y2="304.0" stroke="#1a65c8" stroke-width="1" stroke-opacity="0.75"/>
<line x1="429.9" y1="311.1" x2="481.4" y2="311.1" stroke="#008000" stroke-width="1" stroke-opacity="0.75"/>
<line x1="421.5" y1="318.3" x2="449.0" y2="318.3" stroke="#1a65c8" stroke-width="1" stroke-opacity="0.75"/>
<line x1="421.5" y1="325.2" x2="442.5" y2="325.2" stroke="#1a65c8" stroke-width="1" stroke-opacity="0.75"/>
<line x1="421.5" y1="332.6" x2="446.7" y2="332.6" stroke="#1a65c8" stroke-width="1" stroke-opacity="0.75"/>
<line x1="415.0" y1="339.3" x2="427.8" y2="339.3" stroke="#1a65c8" stroke-width="1" stroke-opacity="0.75"/>
<line x1="423.6" y1="346.5" x2="459.3" y2="346.5" stroke="#1a65c8" stroke-width="1" stroke-opacity="0.75"/>
<circle cx="416.8" cy="261.7" r="2.1" fill="#1a65c8"/>
<circle cx="411.6" cy="276.0" r="2.1" fill="#1a65c8"/>
<circle cx="457.2" cy="277.7" r="2.1" fill="#ff6347"/>
<circle cx="438.3" cy="289.6" r="2.1" fill="#ff6347"/>
<circle cx="440.0" cy="289.6" r="2.1" fill="#1a65c8"/>
<circle cx="414.1" cy="301.2" r="2.1" fill="#ff6347"/>
<circle cx="428.8" cy="301.2" r="2.1" fill="#ff6347"/>
<circle cx="430.9" cy="301.2" r="2.1" fill="#ff6347"/>
<circle cx="445.6" cy="301.2" r="2.1" fill="#ff6347"/>
<circle cx="452.0" cy="301.2" r="2.1" fill="#ff6347"/>
<circle cx="457.2" cy="301.2" r="2.1" fill="#ff6347"/>
<circle cx="464.6" cy="301.2" r="2.1" fill="#ff6347"/>
<circle cx="423.6" cy="304.0" r="2.1" fill="#1a65c8"/>
<circle cx="435.1" cy="304.0" r="2.1" fill="#1a65c8"/>
<circle cx="437.2" cy="304.0" r="2.1" fill="#1a65c8"/>
<circle cx="439.3" cy="304.0" r="2.1" fill="#1a65c8"/>
<circle cx="442.5" cy="304.0" r="2.1" fill="#1a65c8"/>
<circle cx="444.6" cy="305.4" r="2.1" fill="#ff6347"/>
<circle cx="452.4" cy="311.1" r="2.1" fill="#008000"/>
<circle cx="402.6" cy="314.5" r="2.1" fill="#1a65c8"/>
<circle cx="405.7" cy="313.5" r="2.1" fill="#1a65c8"/>
<circle cx="408.9" cy="314.5" r="2.1" fill="#1a65c8"/>
<circle cx="413.1" cy="313.0" r="2.1" fill="#1a65c8"/>
<circle cx="415.2" cy="315.5" r="2.1" fill="#1a65c8"/>
<circle cx="417.3" cy="313.0" r="2.1" fill="#1a65c8"/>
<circle cx="421.5" cy="314.5" r="2.1" fill="#1a65c8"/>
<circle cx="410.0" cy="316.5" r="2.1" fill="#1a65c8"/>
<circle cx="440.4" cy="318.3" r="2.1" fill="#1a65c8"/>
<circle cx="432.0" cy="325.2" r="2.1" fill="#1a65c8"/>
<circle cx="434.1" cy="332.6" r="2.1" fill="#1a65c8"/>
<circle cx="435.5" cy="332.6" r="2.1" fill="#1a65c8"/>
<circle cx="421.5" cy="339.3" r="2.1" fill="#1a65c8"/>
<circle cx="437.2" cy="346.5" r="2.1" fill="#1a65c8"/>
<circle cx="442.5" cy="346.5" r="2.1" fill="#1a65c8"/>
<circle cx="401.5" cy="370.2" r="2.1" fill="#1a65c8"/>
<circle cx="407.8" cy="370.2" r="2.1" fill="#1a65c8"/>
<circle cx="409.5" cy="377.6" r="2.1" fill="#1a65c8"/>
<circle cx="416.8" cy="377.6" r="2.1" fill="#1a65c8"/>
<circle cx="403.0" cy="390.6" r="2.1" fill="#008000"/>
<circle cx="404.2" cy="392.7" r="2.1" fill="#1a65c8"/>
<circle cx="466.0" cy="406.0" r="2.1" fill="#008000"/>
<circle cx="445.6" cy="409.7" r="2.1" fill="#008000"/>
<circle cx="454.5" cy="414.4" r="2.1" fill="#008000"/>
<circle cx="429.3" cy="423.8" r="2.1" fill="#008000"/>
<circle cx="410.3" cy="433.3" r="2.1" fill="#008000"/>
<circle cx="417.7" cy="433.3" r="2.1" fill="#008000"/>
<circle cx="422.5" cy="434.5" r="2.1" fill="#ff6347"/></g>
<rect x="352.15" y="258.6" width="138.9" height="175.79999999999995" fill="none" stroke="#000" stroke-width="1"/>
<line x1="364.78" y1="434.40" x2="364.78" y2="439.70" stroke="#222" stroke-width="0.9" />
<text x="358.11" y="452.50" font-size="9.32" font-weight="normal" fill="#000" textLength="13.34" lengthAdjust="spacingAndGlyphs" >−3</text>
<line x1="402.66" y1="434.40" x2="402.66" y2="439.70" stroke="#222" stroke-width="0.9" />
<text x="399.78" y="452.50" font-size="9.32" font-weight="normal" fill="#000" textLength="5.76" lengthAdjust="spacingAndGlyphs" >0</text>
<line x1="440.54" y1="434.40" x2="440.54" y2="439.70" stroke="#222" stroke-width="0.9" />
<text x="437.66" y="452.50" font-size="9.32" font-weight="normal" fill="#000" textLength="5.76" lengthAdjust="spacingAndGlyphs" >3</text>
<line x1="478.42" y1="434.40" x2="478.42" y2="439.70" stroke="#222" stroke-width="0.9" />
<text x="475.54" y="452.50" font-size="9.32" font-weight="normal" fill="#000" textLength="5.76" lengthAdjust="spacingAndGlyphs" >6</text>
<text x="360.10" y="469.20" font-size="9.32" textLength="123.00" lengthAdjust="spacingAndGlyphs">ANCP<tspan font-size="6.53" font-style="italic" dy="1.6">H</tspan><tspan dy="-1.6"> (mol C m</tspan><tspan font-size="6.53" dy="-3.6">−2</tspan><tspan dy="3.6"> year</tspan><tspan font-size="6.53" dy="-3.6">−1</tspan><tspan dy="3.6">)</tspan></text>
<text x="400.69" y="250.00" font-size="11.33" font-weight="normal" fill="#000" textLength="41.83" lengthAdjust="spacingAndGlyphs" >Atlantic</text>
<text x="353.65" y="250.70" font-size="9.32" font-weight="bold" fill="#000" textLength="6.14" lengthAdjust="spacingAndGlyphs" >e</text>
<rect x="503.45" y="258.6" width="138.9" height="175.79999999999995" fill="#fff"/>
<g clip-path="url(#pclip3)"><path d="M642.3,259.0 L642.3,302.0 L620.0,304.0 L601.9,308.0 L601.9,317.0 L618.7,320.0 L627.0,330.0 L627.0,340.0 L642.3,345.0 L642.3,363.0 L600.0,372.0 L587.2,380.0 L587.2,400.0 L600.0,402.0 L642.3,404.0 L642.3,434.2 L504.0,434.2 L504.0,423.0 L515.7,422.8 L515.7,414.4 L504.0,413.0 L504.0,396.0 L522.0,395.0 L522.0,383.0 L504.0,382.0 L504.0,368.0 L522.0,357.6 L538.8,352.0 L539.0,345.0 L528.3,340.0 L526.2,335.0 L528.0,330.0 L538.8,322.0 L532.5,318.0 L528.3,310.0 L528.3,302.2 L504.0,300.0 L504.0,295.0 L511.5,294.0 L511.5,288.0 L504.0,287.0 L504.0,277.0 L518.9,275.0 L517.8,268.0 L551.5,262.3 L560.0,259.2 Z" fill="#d3e4f0"/></g>
<line x1="516.08" y1="258.60" x2="516.08" y2="434.40" stroke="#444" stroke-width="0.8" />
<line x1="553.96" y1="258.60" x2="553.96" y2="434.40" stroke="#222" stroke-width="1.0" />
<line x1="591.84" y1="258.60" x2="591.84" y2="434.40" stroke="#444" stroke-width="0.8" />
<line x1="629.72" y1="258.60" x2="629.72" y2="434.40" stroke="#444" stroke-width="0.8" />
<line x1="503.45" y1="261.60" x2="642.35" y2="261.60" stroke="#444" stroke-width="0.8" />
<line x1="503.45" y1="289.95" x2="642.35" y2="289.95" stroke="#444" stroke-width="0.8" />
<line x1="503.45" y1="318.30" x2="642.35" y2="318.30" stroke="#444" stroke-width="0.8" />
<line x1="503.45" y1="346.65" x2="642.35" y2="346.65" stroke="#222" stroke-width="1.0" />
<line x1="503.45" y1="375.00" x2="642.35" y2="375.00" stroke="#444" stroke-width="0.8" />
<line x1="503.45" y1="403.35" x2="642.35" y2="403.35" stroke="#444" stroke-width="0.8" />
<line x1="503.45" y1="431.70" x2="642.35" y2="431.70" stroke="#444" stroke-width="0.8" />
<g clip-path="url(#pclip3)"><path d="M574.6,259.2 C571.8,261.1 568.9,262.1 565.1,265.5 C561.3,268.9 561.7,267.2 562.0,270.7 C562.3,274.1 562.4,273.2 566.2,277.0 C570.0,280.8 571.5,279.5 574.6,283.3 C577.8,287.1 578.0,285.2 576.7,289.6 C575.4,294.0 574.8,292.9 570.4,298.0 C566.0,303.1 566.1,300.8 562.0,306.5 C557.9,312.2 558.9,310.7 556.7,317.0 C554.5,323.3 556.2,321.2 554.6,327.5 C553.0,333.8 554.0,333.0 551.5,338.0 C549.0,343.0 549.1,341.0 546.2,344.3 C543.4,347.6 543.9,346.3 542.0,349.0 C540.1,351.7 538.3,349.2 539.9,353.4 C541.5,357.6 542.5,357.9 547.2,362.9 C551.9,367.9 551.3,364.9 555.7,370.2 C560.1,375.5 557.6,374.1 562.0,380.7 C566.4,387.3 566.0,385.0 570.4,392.3 C574.8,399.6 577.3,398.0 576.7,404.9 C576.1,411.8 574.0,410.0 568.3,415.4 C562.6,420.8 562.5,419.0 557.8,422.8 C553.1,426.6 554.4,424.9 552.5,428.0 C550.6,431.1 551.8,431.7 551.5,433.3" fill="none" stroke="#777" stroke-width="2.2" stroke-dasharray="7.4,3.2"/>
<path d="M591.4,260.2 C595.2,260.8 598.6,260.7 604.0,262.3 C609.4,263.9 609.3,263.0 609.3,265.5 C609.3,268.0 605.3,267.2 604.0,270.7 C602.7,274.1 608.2,274.1 605.1,277.0 C602.0,279.9 599.8,278.3 593.5,280.2 C587.2,282.1 586.2,281.1 584.0,283.3 C581.8,285.5 587.7,284.6 586.1,287.5 C584.5,290.4 581.0,289.7 578.8,292.8 C576.6,295.9 581.9,294.9 578.8,298.0 C575.6,301.1 572.4,300.1 568.3,303.3 C564.2,306.5 565.1,305.1 565.1,308.6 C565.1,312.1 564.8,310.5 568.3,314.9 C571.8,319.3 572.6,318.6 576.7,323.3 C580.8,328.0 582.2,326.5 581.9,330.6 C581.6,334.7 576.2,333.8 575.6,336.9 C575.0,340.0 575.7,338.9 579.8,341.1 C583.9,343.3 585.8,342.8 589.3,344.3 C592.8,345.8 591.1,343.9 591.4,346.0 C591.7,348.1 592.2,347.5 590.3,351.3 C588.4,355.1 591.1,354.9 585.1,358.7 C579.1,362.5 578.6,360.8 570.4,363.9 C562.2,367.0 564.4,365.7 557.8,369.2 C551.2,372.7 551.5,371.7 548.3,375.5 C545.1,379.3 545.9,378.4 547.2,381.8 C548.5,385.2 550.3,382.9 552.5,387.0 C554.7,391.1 551.1,391.1 554.6,395.5 C558.1,399.9 558.4,398.7 564.1,401.8 C569.8,404.9 572.9,403.2 573.5,406.0 C574.1,408.8 567.1,408.1 566.2,411.2 C565.3,414.3 564.7,413.6 570.4,416.5 C576.1,419.4 575.6,417.6 585.1,420.7 C594.6,423.8 589.9,423.6 601.9,427.0 C613.9,430.4 618.1,430.6 625.0,432.2" fill="none" stroke="#00007f" stroke-width="4.6" stroke-linejoin="round" stroke-linecap="round"/>
<line x1="555.7" y1="396.1" x2="576.7" y2="396.1" stroke="#008000" stroke-width="1" stroke-opacity="0.75"/>
<line x1="545.1" y1="403.4" x2="585.1" y2="403.4" stroke="#008000" stroke-width="1" stroke-opacity="0.75"/>
<line x1="566.0" y1="410.6" x2="589.0" y2="410.6" stroke="#ff6347" stroke-width="1" stroke-opacity="0.75"/>
<line x1="580.0" y1="410.6" x2="608.0" y2="410.6" stroke="#008000" stroke-width="1" stroke-opacity="0.75"/>
<line x1="556.7" y1="417.5" x2="595.6" y2="417.5" stroke="#008000" stroke-width="1" stroke-opacity="0.75"/>
<line x1="576.7" y1="417.5" x2="627.1" y2="417.5" stroke="#ff6347" stroke-width="1" stroke-opacity="0.75"/>
<line x1="567.2" y1="424.5" x2="631.3" y2="424.5" stroke="#ff6347" stroke-width="1" stroke-opacity="0.75"/>
<line x1="533.6" y1="431.6" x2="589.3" y2="431.6" stroke="#ff6347" stroke-width="1" stroke-opacity="0.75"/>
<circle cx="562.0" cy="389.1" r="2.1" fill="#008000"/>
<circle cx="558.8" cy="396.1" r="2.1" fill="#008000"/>
<circle cx="569.3" cy="396.1" r="2.1" fill="#008000"/>
<circle cx="562.0" cy="403.4" r="2.1" fill="#008000"/>
<circle cx="571.4" cy="403.4" r="2.1" fill="#008000"/>
<circle cx="564.1" cy="403.4" r="2.1" fill="#ff6347"/>
<circle cx="580.5" cy="410.6" r="2.1" fill="#ff6347"/>
<circle cx="595.2" cy="410.6" r="2.1" fill="#008000"/>
<circle cx="574.6" cy="417.5" r="2.1" fill="#008000"/>
<circle cx="576.3" cy="417.5" r="2.1" fill="#008000"/>
<circle cx="594.1" cy="417.5" r="2.1" fill="#008000"/>
<circle cx="605.1" cy="417.5" r="2.1" fill="#ff6347"/>
<circle cx="599.8" cy="424.5" r="2.1" fill="#ff6347"/>
<circle cx="584.0" cy="424.5" r="2.1" fill="#008000"/>
<circle cx="588.2" cy="424.5" r="2.1" fill="#008000"/>
<circle cx="563.0" cy="431.6" r="2.1" fill="#ff6347"/>
<circle cx="579.2" cy="431.6" r="2.1" fill="#008000"/>
<circle cx="589.3" cy="431.6" r="2.1" fill="#008000"/></g>
<rect x="503.45" y="258.6" width="138.9" height="175.79999999999995" fill="none" stroke="#000" stroke-width="1"/>
<line x1="516.08" y1="434.40" x2="516.08" y2="439.70" stroke="#222" stroke-width="0.9" />
<text x="509.41" y="452.50" font-size="9.32" font-weight="normal" fill="#000" textLength="13.34" lengthAdjust="spacingAndGlyphs" >−3</text>
<line x1="553.96" y1="434.40" x2="553.96" y2="439.70" stroke="#222" stroke-width="0.9" />
<text x="551.08" y="452.50" font-size="9.32" font-weight="normal" fill="#000" textLength="5.76" lengthAdjust="spacingAndGlyphs" >0</text>
<line x1="591.84" y1="434.40" x2="591.84" y2="439.70" stroke="#222" stroke-width="0.9" />
<text x="588.96" y="452.50" font-size="9.32" font-weight="normal" fill="#000" textLength="5.76" lengthAdjust="spacingAndGlyphs" >3</text>
<line x1="629.72" y1="434.40" x2="629.72" y2="439.70" stroke="#222" stroke-width="0.9" />
<text x="626.84" y="452.50" font-size="9.32" font-weight="normal" fill="#000" textLength="5.76" lengthAdjust="spacingAndGlyphs" >6</text>
<text x="511.40" y="469.20" font-size="9.32" textLength="123.00" lengthAdjust="spacingAndGlyphs">ANCP<tspan font-size="6.53" font-style="italic" dy="1.6">H</tspan><tspan dy="-1.6"> (mol C m</tspan><tspan font-size="6.53" dy="-3.6">−2</tspan><tspan dy="3.6"> year</tspan><tspan font-size="6.53" dy="-3.6">−1</tspan><tspan dy="3.6">)</tspan></text>
<text x="555.36" y="250.00" font-size="11.33" font-weight="normal" fill="#000" textLength="35.09" lengthAdjust="spacingAndGlyphs" >Global</text>
<text x="504.95" y="250.70" font-size="9.32" font-weight="bold" fill="#000" textLength="3.94" lengthAdjust="spacingAndGlyphs" >f</text>
<rect x="53.4" y="263.2" width="66.7" height="46.5" rx="2" ry="2" fill="#fff" fill-opacity="0.95" stroke="#ccc" stroke-width="0.8"/>
<text x="58.60" y="272.10" font-size="8.03" font-weight="normal" fill="#000" textLength="56.11" lengthAdjust="spacingAndGlyphs" >Definition of H</text>
<circle cx="64.1" cy="280.3" r="2.7" fill="#1a65c8"/>
<text x="72.20" y="283.10" font-size="8.03" font-weight="normal" fill="#000" textLength="38.17" lengthAdjust="spacingAndGlyphs" >Max. MLD</text>
<circle cx="64.1" cy="291.8" r="2.7" fill="#ff6347"/>
<text x="72.20" y="294.60" font-size="8.03" font-weight="normal" fill="#000" textLength="45.10" lengthAdjust="spacingAndGlyphs" >MLD or Zeu</text>
<circle cx="64.1" cy="303.4" r="2.7" fill="#008000"/>
<text x="72.20" y="306.20" font-size="8.03" font-weight="normal" fill="#000" textLength="26.21" lengthAdjust="spacingAndGlyphs" >Others</text>
<line x1="44.05" y1="261.60" x2="49.55" y2="261.60" stroke="#222" stroke-width="0.9" />
<text x="16.19" y="265.60" font-size="9.32" font-weight="normal" fill="#000" textLength="22.81" lengthAdjust="spacingAndGlyphs" >60°N</text>
<line x1="44.05" y1="289.95" x2="49.55" y2="289.95" stroke="#222" stroke-width="0.9" />
<text x="16.19" y="293.95" font-size="9.32" font-weight="normal" fill="#000" textLength="22.81" lengthAdjust="spacingAndGlyphs" >40°N</text>
<line x1="44.05" y1="318.30" x2="49.55" y2="318.30" stroke="#222" stroke-width="0.9" />
<text x="16.19" y="322.30" font-size="9.32" font-weight="normal" fill="#000" textLength="22.81" lengthAdjust="spacingAndGlyphs" >20°N</text>
<line x1="44.05" y1="346.65" x2="49.55" y2="346.65" stroke="#222" stroke-width="0.9" />
<text x="28.72" y="350.65" font-size="9.32" font-weight="normal" fill="#000" textLength="10.28" lengthAdjust="spacingAndGlyphs" >0°</text>
<line x1="44.05" y1="375.00" x2="49.55" y2="375.00" stroke="#222" stroke-width="0.9" />
<text x="17.21" y="379.00" font-size="9.32" font-weight="normal" fill="#000" textLength="21.79" lengthAdjust="spacingAndGlyphs" >20°S</text>
<line x1="44.05" y1="403.35" x2="49.55" y2="403.35" stroke="#222" stroke-width="0.9" />
<text x="17.21" y="407.35" font-size="9.32" font-weight="normal" fill="#000" textLength="21.79" lengthAdjust="spacingAndGlyphs" >40°S</text>
<line x1="44.05" y1="431.70" x2="49.55" y2="431.70" stroke="#222" stroke-width="0.9" />
<text x="17.21" y="435.70" font-size="9.32" font-weight="normal" fill="#000" textLength="21.79" lengthAdjust="spacingAndGlyphs" >60°S</text>
<text x="-10.62" y="346.00" font-size="9.32" font-weight="normal" fill="#000" textLength="37.25" lengthAdjust="spacingAndGlyphs" transform="rotate(-90 8 346)">Latitude</text>
</svg>
</body></html>
